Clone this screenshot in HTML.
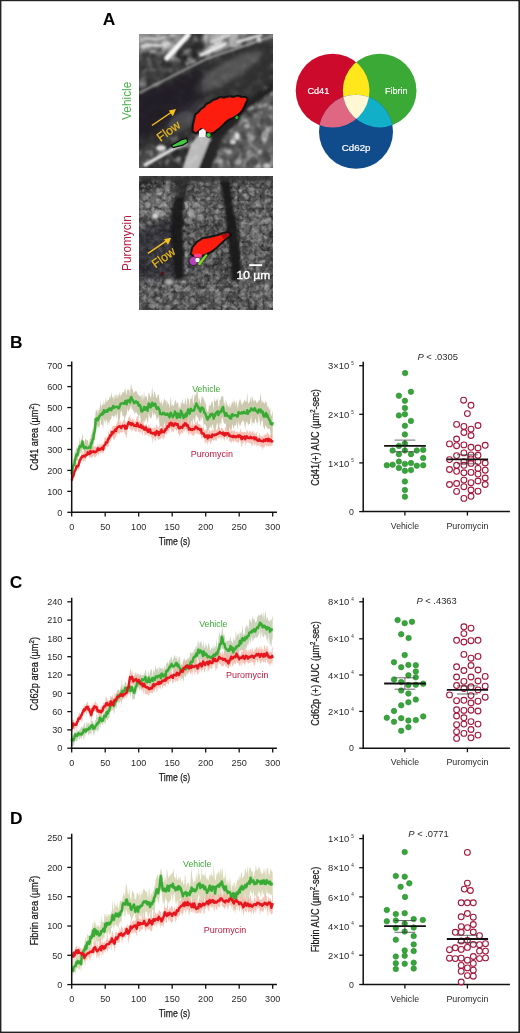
<!DOCTYPE html>
<html><head><meta charset="utf-8"><style>
html,body{margin:0;padding:0;background:#fff;}
svg{display:block;font-family:"Liberation Sans", sans-serif;will-change:transform;}
</style></head><body>
<svg width="520" height="1033" viewBox="0 0 520 1033">
<rect x="0" y="0" width="520" height="1033" fill="#fff"/>
<defs>
<clipPath id="im1"><rect x="139" y="34" width="134" height="134"/></clipPath>
<clipPath id="im2"><rect x="139" y="176" width="134" height="134"/></clipPath>
<filter id="bl2" x="-10%" y="-10%" width="120%" height="120%"><feGaussianBlur stdDeviation="2"/></filter>
<filter id="bl1" x="-10%" y="-10%" width="120%" height="120%"><feGaussianBlur stdDeviation="1.2"/></filter>
<filter id="bl4" x="-20%" y="-20%" width="140%" height="140%"><feGaussianBlur stdDeviation="3.5"/></filter>
<filter id="bl07" x="-10%" y="-10%" width="120%" height="120%"><feGaussianBlur stdDeviation="0.7"/></filter>
<filter id="nzW" x="0" y="0" width="100%" height="100%"><feTurbulence type="fractalNoise" baseFrequency="0.13" numOctaves="3" seed="3"/>
 <feColorMatrix type="matrix" values="0 0 0 0 1  0 0 0 0 1  0 0 0 0 1  3.0 0 0 0 -1.45"/><feGaussianBlur stdDeviation="0.8"/></filter>
<filter id="nzB" x="0" y="0" width="100%" height="100%"><feTurbulence type="fractalNoise" baseFrequency="0.12" numOctaves="3" seed="9"/>
 <feColorMatrix type="matrix" values="0 0 0 0 0  0 0 0 0 0  0 0 0 0 0  3.0 0 0 0 -1.4"/><feGaussianBlur stdDeviation="0.8"/></filter>
<filter id="tv1" x="0" y="0" width="100%" height="100%"><feTurbulence type="turbulence" baseFrequency="0.12" numOctaves="2" seed="4"/>
 <feColorMatrix type="matrix" values="0 0 0 0 1 0 0 0 0 1 0 0 0 0 1 2.2 0 0 0 -0.25"/><feGaussianBlur stdDeviation="0.6"/></filter>
<filter id="tv3" x="0" y="0" width="100%" height="100%"><feTurbulence type="turbulence" baseFrequency="0.09" numOctaves="3" seed="2"/>
 <feColorMatrix type="matrix" values="0 0 0 0 0 0 0 0 0 0 0 0 0 0 0 -3 0 0 0 0.9"/><feGaussianBlur stdDeviation="0.5"/></filter>
<filter id="nzW2" x="0" y="0" width="100%" height="100%"><feTurbulence type="fractalNoise" baseFrequency="0.24" numOctaves="3" seed="5"/>
 <feColorMatrix type="matrix" values="0 0 0 0 1  0 0 0 0 1  0 0 0 0 1  3.0 0 0 0 -1.45"/><feGaussianBlur stdDeviation="0.7"/></filter>
<filter id="nzB2" x="0" y="0" width="100%" height="100%"><feTurbulence type="fractalNoise" baseFrequency="0.23" numOctaves="3" seed="12"/>
 <feColorMatrix type="matrix" values="0 0 0 0 0  0 0 0 0 0  0 0 0 0 0  3.0 0 0 0 -1.4"/><feGaussianBlur stdDeviation="0.7"/></filter>
<mask id="m1tex"><rect x="0" y="0" width="134" height="134" fill="#fff"/>
 <polygon points="0,62 67,26 134,3 134,48 100,75 70,100 45,100 0,118" fill="#2a2a2a" filter="url(#bl2)"/></mask>
</defs>
<g clip-path="url(#im1)"><g transform="translate(139,34)">
<g filter="url(#bl2)">
<rect x="-5" y="-5" width="144" height="144" fill="#303030"/>
<polygon points="-5,-5 50,-5 32,18 -5,17" fill="#8e8e8e"/>
<polygon points="-5,18 29,20 45,30 62,26 0,59 -5,60" fill="#505050"/>
<polygon points="50,-5 66,-5 67,23 45,32 36,22" fill="#383838"/>
<polygon points="66,-5 112,-5 100,8 67,23" fill="#b2b2b2"/>
<polygon points="112,-5 140,-5 140,6 100,8" fill="#5a5a5a"/>
<ellipse cx="88" cy="38" rx="38" ry="9" transform="rotate(-30 88 38)" fill="#565656"/>
<ellipse cx="45" cy="80" rx="22" ry="9" transform="rotate(-30 45 80)" fill="#3a3a3f"/>
<polygon points="74,140 140,140 140,52 110,70 92,95 84,104" fill="#5e5e5e"/>
<polygon points="-5,118 30,108 8,131 -5,138" fill="#4a4a4a"/>
</g>
<g mask="url(#m1tex)">
<rect x="0" y="0" width="134" height="134" filter="url(#nzW)" opacity="0.6"/>
<rect x="0" y="0" width="134" height="134" filter="url(#nzB)" opacity="0.45"/>
</g>
<g filter="url(#bl1)">
</g>
<polygon points="-4,62 30,48 62,34 64,60 50,74 32,88 14,102 -4,108" fill="#1a1820" opacity="0.7" filter="url(#bl4)"/>
<polygon points="-4,20 30,22 45,32 58,30 0,58 -4,60" fill="#222" opacity="0.35" filter="url(#bl4)"/>
<g filter="url(#bl1)">
<ellipse cx="42" cy="88" rx="14" ry="9" transform="rotate(-35 42 88)" fill="#6a6a70" opacity="0.35"/>
<path d="M28,24 L49,1" stroke="#f6f6f6" stroke-width="5.5" stroke-linecap="round"/>
<path d="M2,13 C10,8 20,15 30,9" stroke="#d8d8d8" stroke-width="2.6" fill="none"/>
<path d="M4,5 C12,3 18,7 26,3" stroke="#cfcfcf" stroke-width="2.2" fill="none"/>
<path d="M62,21 L86,10" stroke="#e8e8e8" stroke-width="3.2" stroke-linecap="round"/>
<path d="M98,8 L122,1" stroke="#e0e0e0" stroke-width="2.6" stroke-linecap="round"/>
<path d="M72,8 L90,1" stroke="#d8d8d8" stroke-width="2.4" stroke-linecap="round"/>
<circle cx="120" cy="6" r="2.5" fill="#f0f0f0"/>
<path d="M0,59 L67,25 L134,2" stroke="#a8a8a8" stroke-width="1.8" fill="none"/>
<path d="M6,131 L34,115 L47,108" stroke="#e4e4e4" stroke-width="3.2" stroke-linecap="round" fill="none"/>
<ellipse cx="22" cy="114" rx="5" ry="3" fill="#dcdcdc"/>
<polygon points="43,136 59,136 72,106 67,97 59,101 52,110" fill="#d2d2d2" opacity="0.85"/>
<polygon points="59,136 72,136 82,104 90,96 76,101 70,108" fill="#262626"/>
<polygon points="68,100 107,68 134,50 134,57 110,73 90,96 76,103" fill="#202020"/>
<ellipse cx="98" cy="102" rx="2.5" ry="3.5" fill="#e0e0e0"/>
<ellipse cx="94" cy="108" rx="3" ry="2.5" fill="#d0d0d0"/>
<ellipse cx="128" cy="132" rx="4" ry="3" fill="#bdbdbd"/>
<ellipse cx="108" cy="92" rx="3" ry="2.5" fill="#a8a8a8"/>
<ellipse cx="126" cy="100" rx="3" ry="3" fill="#9a9a9a"/>
<ellipse cx="100" cy="128" rx="3" ry="3" fill="#a0a0a0"/>
</g>
</g></g>
<path d="M171.2,145.5 L181.5,139.6 L186.6,138.4 L187.8,142 L182.8,145.2 L173.2,147.6 Z" fill="#44c844" stroke="#101010" stroke-width="1.3" stroke-linejoin="round"/>
<path d="M193.1,131 L193.3,126 L194.6,120 L195.8,114.8 L199,112.5 L201.2,109.6 L204.5,107.5 L206.5,104.6 L210,103 L213.3,100.6 L217,99.4 L220,97.6 L224,98.2 L229.4,96.8 L233,97.6 L237.5,96.3 L241,97.4 L245.6,97.6 L247,99.6 L245.2,103 L243.8,106.4 L242.2,109.4 L239.8,112.6 L236.6,115 L232.8,117.4 L228.6,119.2 L225.4,121.6 L222.6,124.6 L219.8,127.2 L216.4,129.8 L213.4,132.2 L209.6,133.6 L206.2,131.8 L203.4,129 L200.8,128.2 L198.6,130.4 L196,132.6 Z" fill="none" stroke="#0c0c0c" stroke-width="3.2" stroke-linejoin="round" filter="url(#bl07)" opacity="0.9"/>
<path d="M193.1,131 L193.3,126 L194.6,120 L195.8,114.8 L199,112.5 L201.2,109.6 L204.5,107.5 L206.5,104.6 L210,103 L213.3,100.6 L217,99.4 L220,97.6 L224,98.2 L229.4,96.8 L233,97.6 L237.5,96.3 L241,97.4 L245.6,97.6 L247,99.6 L245.2,103 L243.8,106.4 L242.2,109.4 L239.8,112.6 L236.6,115 L232.8,117.4 L228.6,119.2 L225.4,121.6 L222.6,124.6 L219.8,127.2 L216.4,129.8 L213.4,132.2 L209.6,133.6 L206.2,131.8 L203.4,129 L200.8,128.2 L198.6,130.4 L196,132.6 Z" fill="#fc1d0e" stroke="#1a1a1a" stroke-width="0.9" stroke-linejoin="round"/>
<path d="M199,131 L203,128.5 L206,131 L205,137 L199,137 Z" fill="#f4f4f4"/>
<circle cx="208.6" cy="135.1" r="2.4" fill="#3bd13b" stroke="#111" stroke-width="0.7"/>
<circle cx="236.8" cy="117.6" r="2" fill="#2faa2f" stroke="#111" stroke-width="0.6"/>
<path d="M151.9,125.5 L172.5,111.5" stroke="#f5c21b" stroke-width="1.5"/>
<path d="M176,109 L168.8,110.6 L172.8,116.2 Z" fill="#f5c21b"/>
<text transform="translate(160.5,142) rotate(-36)" font-size="12.2" fill="#e8b820" stroke="#e8b820" stroke-width="0.25">Flow</text>
<g clip-path="url(#im2)"><g transform="translate(139,176)">
<g filter="url(#bl2)">
<rect x="-5" y="-5" width="144" height="144" fill="#474747"/>
<rect x="-5" y="-5" width="144" height="11" fill="#3a3a3a"/>
<polygon points="-5,-5 30,-5 26,8 12,14 -5,18" fill="#262626"/>
<polygon points="102,0 140,0 140,140 100,140" fill="#464646"/>
<polygon points="-5,100 140,100 140,140 -5,140" fill="#4e4e4e"/>
<ellipse cx="56" cy="34" rx="12" ry="9" fill="#6a6a6a"/>
<ellipse cx="116" cy="52" rx="10" ry="16" fill="#626262"/>
<ellipse cx="18" cy="30" rx="14" ry="14" fill="#626262"/>
<ellipse cx="70" cy="12" rx="10" ry="6" fill="#4a4a4a"/>
<ellipse cx="66" cy="72" rx="14" ry="10" fill="#4c4c4c"/>
</g>
<rect x="0" y="0" width="134" height="134" filter="url(#tv1)" opacity="0.32"/>
<rect x="0" y="0" width="134" height="134" filter="url(#tv3)" opacity="0.5"/>
<rect x="0" y="0" width="134" height="134" filter="url(#nzW2)" opacity="0.25"/>
<polygon points="-4,54 28,44 37,48 38,102 -4,102" fill="#1e1d26" opacity="0.6" filter="url(#bl4)"/>
<g filter="url(#bl1)">
<polygon points="38,0 52,0 49,12 46,24 36,24 35,12" fill="#202020" opacity="0.65"/>
<polygon points="38,22 45,22 45,26 43.5,52 45,78 45,95 43.5,103 36,103 35,95 33.5,78 31.5,52 33.5,26" fill="#161616" opacity="0.92"/>
<polygon points="80.5,0 90.5,0 93.2,26 98.4,52 101,78 102,95 100.5,104 92.5,104 92.2,95 90.6,78 88,52 84.8,26" fill="#161616" opacity="0.92"/>
<rect x="0" y="0" width="134" height="5" fill="#333" opacity="0.8"/>
<ellipse cx="16" cy="40" rx="3" ry="2.5" fill="#ddd"/>
<ellipse cx="30" cy="106" rx="4" ry="3" fill="#aaa"/>
</g>
</g></g>
<path d="M191.5,253.8 L192.2,250.4 L192.9,247.6 L195.2,245 L197.3,242.3 L200,240.6 L203.1,238.6 L206.5,238.2 L210,237.4 L214.6,236.4 L219.2,235.2 L223.8,233.5 L228.5,232.9 L230,235.2 L227.4,237.2 L224.6,239.6 L221.5,242.3 L218.8,244.8 L216.2,247.4 L213.4,249.6 L210.6,251.6 L206.5,253.6 L203,255 L200.8,255.6 L197.8,256.6 L195,256.4 Z" fill="none" stroke="#0c0c0c" stroke-width="3.2" stroke-linejoin="round" filter="url(#bl07)" opacity="0.9"/>
<path d="M191.5,253.8 L192.2,250.4 L192.9,247.6 L195.2,245 L197.3,242.3 L200,240.6 L203.1,238.6 L206.5,238.2 L210,237.4 L214.6,236.4 L219.2,235.2 L223.8,233.5 L228.5,232.9 L230,235.2 L227.4,237.2 L224.6,239.6 L221.5,242.3 L218.8,244.8 L216.2,247.4 L213.4,249.6 L210.6,251.6 L206.5,253.6 L203,255 L200.8,255.6 L197.8,256.6 L195,256.4 Z" fill="#fc1d0e" stroke="#1a1a1a" stroke-width="0.9" stroke-linejoin="round"/>
<path d="M221,235 L228.5,233.1 L229.6,235.4 L224,239 Z" fill="#b00d10"/>
<ellipse cx="193.5" cy="261" rx="4.5" ry="4.5" fill="#b341b8" stroke="#111" stroke-width="0.7"/>
<path d="M197,264 L206,253.5 L208,255 L200,266 Z" fill="#82d12c" stroke="#111" stroke-width="0.5"/>
<ellipse cx="197.5" cy="260" rx="2.2" ry="2.2" fill="#fff"/>
<ellipse cx="198" cy="255.5" rx="4" ry="2" fill="#ff3f88"/>
<circle cx="162.2" cy="273.4" r="1.8" fill="#501018"/>
<path d="M148,253.3 L167.6,240.2" stroke="#f5c21b" stroke-width="1.5"/>
<path d="M171.2,237.8 L164,239.2 L168,244.8 Z" fill="#f5c21b"/>
<text transform="translate(155.5,268.5) rotate(-36)" font-size="12.2" fill="#e8b820" stroke="#e8b820" stroke-width="0.25">Flow</text>
<rect x="249.2" y="264.2" width="13" height="1.9" fill="#fff"/>
<text x="236.6" y="279" font-size="11.6" fill="#fff" stroke="#fff" stroke-width="0.35" textLength="33.7" lengthAdjust="spacingAndGlyphs">10 µm</text>
<text transform="translate(131.3,100.8) rotate(-90)" font-size="12" fill="#47b04b" text-anchor="middle" textLength="38.3" lengthAdjust="spacingAndGlyphs">Vehicle</text>
<text transform="translate(131.3,243.1) rotate(-90)" font-size="12" fill="#b8173d" text-anchor="middle" textLength="55.8" lengthAdjust="spacingAndGlyphs">Puromycin</text>
<defs><clipPath id="cR"><circle cx="332.6" cy="90.6" r="36.9"/></clipPath><clipPath id="cG"><circle cx="379.7" cy="90.6" r="36.8"/></clipPath><clipPath id="cB"><circle cx="356" cy="131.8" r="37"/></clipPath></defs>
<circle cx="332.6" cy="90.6" r="36.9" fill="#cc0a2b"/>
<circle cx="379.7" cy="90.6" r="36.8" fill="#3aa935"/>
<circle cx="356" cy="131.8" r="37" fill="#104c8c"/>
<g clip-path="url(#cR)"><circle cx="379.7" cy="90.6" r="36.8" fill="#ffe71c"/><circle cx="356" cy="131.8" r="37" fill="#df6781"/></g>
<g clip-path="url(#cG)"><circle cx="356" cy="131.8" r="37" fill="#12afc9"/></g>
<g clip-path="url(#cR)"><g clip-path="url(#cG)"><circle cx="356" cy="131.8" r="37" fill="#fff6d3"/></g></g>
<text x="307.4" y="94.4" font-size="9.8" fill="#fff" text-anchor="start" font-weight="normal" stroke="#fff" stroke-width="0.2" textLength="21.9" lengthAdjust="spacingAndGlyphs">Cd41</text>
<text x="384.9" y="94.4" font-size="9.8" fill="#fff" text-anchor="start" font-weight="normal" stroke="#fff" stroke-width="0.2" textLength="22.5" lengthAdjust="spacingAndGlyphs">Fibrin</text>
<text x="341.8" y="150.8" font-size="9.4" fill="#fff" text-anchor="start" font-weight="normal" stroke="#fff" stroke-width="0.2" textLength="28.7" lengthAdjust="spacingAndGlyphs">Cd62p</text>
<text x="102.8" y="24.6" font-size="17.4" fill="#000" text-anchor="start" font-weight="bold" >A</text>
<text x="10.1" y="347.9" font-size="17.4" fill="#000" text-anchor="start" font-weight="bold" >B</text>
<text x="9.7" y="587.7" font-size="17.4" fill="#000" text-anchor="start" font-weight="bold" >C</text>
<text x="10.1" y="823.8" font-size="17.4" fill="#000" text-anchor="start" font-weight="bold" >D</text>
<polygon points="71.7,471.12 72.37,464.58 73.04,458.92 73.71,458.44 74.38,459.26 75.05,448.17 75.72,453.4 76.39,447.05 77.06,448.03 77.73,448.15 78.4,447.19 79.07,445.05 79.74,436.98 80.41,443.36 81.08,440.1 81.75,438.3 82.42,432.96 83.09,439.8 83.76,443.08 84.43,443.01 85.1,438.65 85.77,438.89 86.44,440.81 87.11,439.95 87.78,439.98 88.45,443.85 89.12,445.67 89.79,438.96 90.46,438.82 91.13,433.03 91.8,435.27 92.47,428.27 93.14,431.79 93.81,428.56 94.48,417.19 95.15,417.7 95.82,410.13 96.49,411.17 97.16,407.99 97.83,414.99 98.5,409.9 99.17,409.88 99.84,407.26 100.51,400.67 101.18,408.29 101.85,404.71 102.52,404.36 103.19,405.18 103.86,399.91 104.53,404.93 105.2,403.27 105.87,396.46 106.54,402.25 107.21,401.76 107.88,399.68 108.55,400.22 109.22,398.57 109.89,396.14 110.56,398.68 111.23,391.63 111.9,396.09 112.57,397.99 113.24,395.99 113.91,401.22 114.58,395.77 115.25,394.33 115.92,398.64 116.59,394.33 117.26,395 117.93,399.2 118.6,394.22 119.27,395.51 119.94,390.91 120.61,397.21 121.28,394.3 121.95,394.65 122.62,391.4 123.29,392.78 123.96,391.94 124.63,390.24 125.3,387.55 125.97,394.71 126.64,393.86 127.31,388.74 127.98,390.9 128.65,389.61 129.32,389.54 129.99,395.5 130.66,387.01 131.33,383.44 132,390.74 132.67,387.94 133.34,392.99 134.01,392.84 134.68,391.82 135.35,391.36 136.02,390.26 136.69,392.04 137.36,393 138.03,395.13 138.7,394.61 139.37,396.67 140.04,395.35 140.71,397.14 141.38,394.28 142.05,401.83 142.72,393.31 143.39,399.92 144.06,390.9 144.73,398.81 145.4,395.93 146.07,396.26 146.74,396.49 147.41,401.6 148.08,397.04 148.75,392.27 149.42,393.44 150.09,396.84 150.76,398.27 151.43,396.09 152.1,386.14 152.77,392.81 153.44,398.26 154.11,391.33 154.78,392.26 155.45,394.26 156.12,397.79 156.79,397.99 157.46,395.85 158.13,394.07 158.8,394.92 159.47,401.33 160.14,402.12 160.81,403.63 161.48,399.25 162.15,406.48 162.82,402.56 163.49,402.73 164.16,397.53 164.83,400.57 165.5,401.25 166.17,399.41 166.84,405.98 167.51,400.18 168.18,403.84 168.85,403.74 169.52,408.83 170.19,402.03 170.86,396.5 171.53,406.43 172.2,403.94 172.87,406.07 173.54,406.12 174.21,404.31 174.88,400.65 175.55,399.83 176.22,404.44 176.89,401.67 177.56,402.67 178.23,403.17 178.9,409.35 179.57,406.19 180.24,408.83 180.91,402.12 181.58,405.21 182.25,398.43 182.92,403.53 183.59,402.97 184.26,404.76 184.93,401.85 185.6,397.47 186.27,406.49 186.94,402.37 187.61,397.1 188.28,399.08 188.95,400.33 189.62,406.84 190.29,399.09 190.96,398.99 191.63,398.52 192.3,393.86 192.97,403.81 193.64,402.63 194.31,396.89 194.98,392.51 195.65,396.74 196.32,394.1 196.99,387.34 197.66,390.34 198.33,402.68 199,396.67 199.67,400.69 200.34,404.01 201.01,401.93 201.68,395.6 202.35,398.75 203.02,396.34 203.69,399.6 204.36,400.43 205.03,405.77 205.7,400.58 206.37,408.18 207.04,411.2 207.71,411.46 208.38,410.58 209.05,403.74 209.72,406.42 210.39,405.75 211.06,404.21 211.73,401.47 212.4,400.92 213.07,405.7 213.74,410.02 214.41,397.19 215.08,401.76 215.75,400.68 216.42,400.61 217.09,398.24 217.76,400.33 218.43,406.17 219.1,406.39 219.77,399.04 220.44,400.78 221.11,396.19 221.78,397.16 222.45,396.04 223.12,395.5 223.79,402.96 224.46,402.12 225.13,410 225.8,400.02 226.47,401.82 227.14,406.62 227.81,403.68 228.48,406.66 229.15,408.12 229.82,402.48 230.49,408.01 231.16,405.38 231.83,402.55 232.5,401.27 233.17,404.96 233.84,399.27 234.51,402.19 235.18,401.59 235.85,406.91 236.52,399.66 237.19,404.32 237.86,408.91 238.53,403.48 239.2,401.19 239.87,398.88 240.54,399.82 241.21,405.41 241.88,400.54 242.55,405.42 243.22,402.29 243.89,402.15 244.56,399.28 245.23,400.8 245.9,402.07 246.57,401.31 247.24,392.2 247.91,402.76 248.58,403.58 249.25,402.12 249.92,401.32 250.59,396.48 251.26,402.8 251.93,395.79 252.6,397.22 253.27,402.01 253.94,398.61 254.61,402.31 255.28,399.86 255.95,400.64 256.62,403.01 257.29,403.33 257.96,401.44 258.63,400.86 259.3,400.38 259.97,399.26 260.64,392.25 261.31,399.85 261.98,403.66 262.65,399.92 263.32,402.47 263.99,402.14 264.66,404.34 265.33,400.25 266,402.76 266.67,401.93 267.34,407.93 268.01,404.6 268.68,408.36 269.35,410.34 270.02,406.65 270.69,413.63 271.36,416.26 272.03,413.36 272.7,410.03 272.7,432.76 272.03,439.24 271.36,444.31 270.69,434.37 270.02,429.51 269.35,428.47 268.68,428.47 268.01,429.35 267.34,427.94 266.67,426.96 266,426.37 265.33,424.69 264.66,429.92 263.99,428.12 263.32,426.84 262.65,419.37 261.98,422.7 261.31,420.24 260.64,426.76 259.97,423.33 259.3,418.96 258.63,414.22 257.96,425.76 257.29,422.04 256.62,423.3 255.95,419.28 255.28,418.53 254.61,423.49 253.94,423.75 253.27,422.34 252.6,421.75 251.93,427.1 251.26,416.06 250.59,419.42 249.92,423.68 249.25,423.86 248.58,425.02 247.91,424.54 247.24,421.41 246.57,422.22 245.9,422.4 245.23,429.76 244.56,425.18 243.89,420.7 243.22,421.64 242.55,420.29 241.88,423.08 241.21,422.27 240.54,426.46 239.87,423.91 239.2,426.55 238.53,420.32 237.86,426.34 237.19,429.2 236.52,421.19 235.85,426.17 235.18,424.85 234.51,425.2 233.84,428.91 233.17,427.73 232.5,423.86 231.83,427.25 231.16,435.46 230.49,429.09 229.82,429.72 229.15,426.83 228.48,433.74 227.81,430.98 227.14,428.65 226.47,428.34 225.8,424 225.13,423.33 224.46,423.99 223.79,422.67 223.12,420.26 222.45,416.93 221.78,418.01 221.11,427.01 220.44,422.53 219.77,423.47 219.1,427.49 218.43,430.62 217.76,424.44 217.09,422.13 216.42,425.98 215.75,428.21 215.08,427.12 214.41,432.42 213.74,429.73 213.07,425.25 212.4,423.86 211.73,427.81 211.06,428.09 210.39,425.31 209.72,428.06 209.05,428.37 208.38,431.11 207.71,432.45 207.04,429.8 206.37,427.36 205.7,425.54 205.03,423.41 204.36,424.19 203.69,426.86 203.02,419.12 202.35,416.39 201.68,421.13 201.01,416.28 200.34,420.77 199.67,421.42 199,421 198.33,418.22 197.66,416.43 196.99,417.76 196.32,414.44 195.65,416.25 194.98,421.74 194.31,422.05 193.64,419.01 192.97,417.84 192.3,427.23 191.63,419.99 190.96,422.96 190.29,421.42 189.62,424.47 188.95,424.18 188.28,417 187.61,420.86 186.94,426.55 186.27,431.62 185.6,420.8 184.93,424.42 184.26,428.19 183.59,425.83 182.92,426.44 182.25,425.64 181.58,420.21 180.91,421.91 180.24,426.48 179.57,424.99 178.9,434.77 178.23,423.88 177.56,418.61 176.89,431.37 176.22,428.77 175.55,423.44 174.88,426.68 174.21,427.35 173.54,427.08 172.87,429.24 172.2,424.63 171.53,430.25 170.86,424.4 170.19,425.02 169.52,426.83 168.85,423.55 168.18,426.34 167.51,424.74 166.84,425.24 166.17,427.63 165.5,426.5 164.83,422.12 164.16,424.25 163.49,424.91 162.82,428.61 162.15,428.16 161.48,425.74 160.81,426.1 160.14,427.41 159.47,423.8 158.8,417.95 158.13,416.41 157.46,419.03 156.79,420.69 156.12,416.5 155.45,414.86 154.78,413.61 154.11,413.63 153.44,416.63 152.77,410.95 152.1,415.11 151.43,418.02 150.76,418.57 150.09,417.7 149.42,416.37 148.75,412.38 148.08,422.24 147.41,422.99 146.74,419.22 146.07,416.78 145.4,420.94 144.73,420.39 144.06,422.97 143.39,420.27 142.72,421.32 142.05,422.06 141.38,424.29 140.71,419.19 140.04,415.52 139.37,414.48 138.7,421.24 138.03,414.02 137.36,415.11 136.69,412.04 136.02,412.84 135.35,412.44 134.68,414.79 134.01,409.21 133.34,412.47 132.67,407.88 132,410.87 131.33,406.15 130.66,405.85 129.99,409.35 129.32,409.47 128.65,410.67 127.98,412.88 127.31,407.14 126.64,415.42 125.97,414.66 125.3,417.32 124.63,421.63 123.96,417.19 123.29,415.49 122.62,416.77 121.95,412.02 121.28,410.86 120.61,412.44 119.94,418.8 119.27,420.23 118.6,425.38 117.93,418.75 117.26,411.28 116.59,418.51 115.92,413.33 115.25,416.42 114.58,415.44 113.91,418.3 113.24,415.94 112.57,415.9 111.9,415.04 111.23,418.89 110.56,419.95 109.89,418.8 109.22,423.99 108.55,420.95 107.88,426.72 107.21,420.95 106.54,418.83 105.87,424.23 105.2,420.19 104.53,421.8 103.86,417.59 103.19,429.8 102.52,425.4 101.85,424.63 101.18,424.3 100.51,416.94 99.84,428.79 99.17,424.73 98.5,427.71 97.83,427.05 97.16,425.05 96.49,425.74 95.82,428.72 95.15,438.25 94.48,439.88 93.81,443.38 93.14,448.94 92.47,453.86 91.8,452.2 91.13,456.01 90.46,458.35 89.79,451.71 89.12,457.92 88.45,454.07 87.78,454.34 87.11,455.3 86.44,457.29 85.77,453.33 85.1,454.1 84.43,456.4 83.76,451.32 83.09,448.87 82.42,449.17 81.75,453.31 81.08,450.19 80.41,453.55 79.74,452.92 79.07,455.54 78.4,454.46 77.73,462.62 77.06,459.54 76.39,459.36 75.72,458.92 75.05,463.41 74.38,464.78 73.71,471.64 73.04,471.48 72.37,474.83 71.7,480.82" fill="#c3bea0" fill-opacity="0.85"/>
<polygon points="71.7,476.67 72.37,475.37 73.04,474.36 73.71,471.68 74.38,469.4 75.05,468.5 75.72,466.23 76.39,462.15 77.06,464.1 77.73,463.53 78.4,460.02 79.07,457.99 79.74,455.2 80.41,457.86 81.08,455.86 81.75,451.39 82.42,451.18 83.09,454.52 83.76,451.9 84.43,451.46 85.1,453.96 85.77,448.64 86.44,451.58 87.11,452.97 87.78,451.32 88.45,447.73 89.12,446.25 89.79,450.15 90.46,446.77 91.13,449.6 91.8,445.59 92.47,447.71 93.14,446.17 93.81,447.66 94.48,446.59 95.15,446.3 95.82,446.2 96.49,447.75 97.16,444.47 97.83,445.26 98.5,446.01 99.17,442.22 99.84,446.62 100.51,442.96 101.18,446.58 101.85,442.02 102.52,444.86 103.19,445.04 103.86,441.65 104.53,437.6 105.2,438.37 105.87,435.51 106.54,438.01 107.21,439.13 107.88,435.91 108.55,430.2 109.22,434.31 109.89,432.86 110.56,427.53 111.23,432.87 111.9,428.56 112.57,426.12 113.24,426 113.91,426.09 114.58,425.71 115.25,426.42 115.92,425.63 116.59,423.56 117.26,422 117.93,420.36 118.6,422.37 119.27,422.87 119.94,419.23 120.61,421.52 121.28,425.23 121.95,421.88 122.62,421.92 123.29,419.22 123.96,420.71 124.63,419.87 125.3,421.52 125.97,422.47 126.64,423.15 127.31,422.13 127.98,418.86 128.65,417.55 129.32,417.44 129.99,413.93 130.66,419 131.33,420.01 132,419.45 132.67,417.67 133.34,421.17 134.01,417.93 134.68,421.84 135.35,420.91 136.02,420.42 136.69,416.75 137.36,415.71 138.03,418.03 138.7,422.42 139.37,420.05 140.04,422.96 140.71,419.64 141.38,419.91 142.05,420.3 142.72,421.61 143.39,420.42 144.06,425.51 144.73,425.03 145.4,425.01 146.07,423.52 146.74,424.08 147.41,429.7 148.08,426.63 148.75,424.27 149.42,427.72 150.09,422.99 150.76,429.79 151.43,426.84 152.1,428.3 152.77,428.26 153.44,428.33 154.11,426.73 154.78,427.87 155.45,428.59 156.12,425.31 156.79,424.51 157.46,427.43 158.13,426.62 158.8,429.67 159.47,424.59 160.14,427.35 160.81,428.94 161.48,427.08 162.15,425 162.82,424.42 163.49,423.49 164.16,429.26 164.83,423.67 165.5,424.15 166.17,422.78 166.84,420.73 167.51,421.5 168.18,419.08 168.85,422.63 169.52,419.71 170.19,416.2 170.86,416.2 171.53,421.52 172.2,419.03 172.87,418.55 173.54,417.18 174.21,419.47 174.88,418.27 175.55,418.57 176.22,420.21 176.89,417.92 177.56,420 178.23,418.43 178.9,423.78 179.57,422.84 180.24,421.61 180.91,419.35 181.58,421.26 182.25,423.78 182.92,418.83 183.59,418.18 184.26,419.72 184.93,419.14 185.6,417.15 186.27,419.29 186.94,418.1 187.61,418.67 188.28,418.86 188.95,424.13 189.62,424.22 190.29,421.55 190.96,421.1 191.63,425.62 192.3,424.64 192.97,421.62 193.64,424.88 194.31,424.68 194.98,423.21 195.65,421.07 196.32,424.03 196.99,419.98 197.66,420.92 198.33,424.35 199,423.74 199.67,424.15 200.34,425.62 201.01,425.48 201.68,427.61 202.35,426.9 203.02,428.46 203.69,425.29 204.36,430.64 205.03,430.95 205.7,429.45 206.37,429.59 207.04,428.11 207.71,431.31 208.38,432.99 209.05,429.33 209.72,430.59 210.39,431.58 211.06,431.2 211.73,430.63 212.4,428.52 213.07,430.93 213.74,429.78 214.41,430.95 215.08,426.23 215.75,428.31 216.42,429.9 217.09,430.48 217.76,426.44 218.43,426.93 219.1,426.82 219.77,427.03 220.44,430.53 221.11,428.04 221.78,427.51 222.45,428.19 223.12,429.26 223.79,430.65 224.46,431.44 225.13,427.61 225.8,426.76 226.47,428.76 227.14,425.15 227.81,425.53 228.48,426.67 229.15,430.47 229.82,429.96 230.49,431.89 231.16,430.86 231.83,431.36 232.5,430.87 233.17,429.98 233.84,431.54 234.51,429.03 235.18,432.45 235.85,431.66 236.52,431.58 237.19,432.46 237.86,431.22 238.53,432.67 239.2,431.87 239.87,432.86 240.54,427.81 241.21,431.74 241.88,432.16 242.55,432.06 243.22,432.14 243.89,432.08 244.56,431.99 245.23,432.32 245.9,432.76 246.57,430.88 247.24,429.56 247.91,432.21 248.58,433.39 249.25,431.1 249.92,430.48 250.59,432.06 251.26,432.98 251.93,431.47 252.6,430.44 253.27,433.14 253.94,430.76 254.61,433.39 255.28,434.56 255.95,433.06 256.62,431.59 257.29,435.43 257.96,437.34 258.63,436.51 259.3,433.49 259.97,433.36 260.64,437.11 261.31,435.61 261.98,436.95 262.65,434.71 263.32,437.52 263.99,433.68 264.66,435.73 265.33,433.66 266,435.05 266.67,433.62 267.34,431.39 268.01,433.71 268.68,433.76 269.35,436.5 270.02,433.82 270.69,435.34 271.36,435.47 272.03,434.82 272.7,435.31 272.7,445.16 272.03,445.47 271.36,445.75 270.69,444.97 270.02,447.53 269.35,445.72 268.68,446.1 268.01,446.55 267.34,445.57 266.67,446.92 266,444.85 265.33,444.78 264.66,446.42 263.99,448.11 263.32,447 262.65,450.09 261.98,446.25 261.31,447.45 260.64,446.27 259.97,447.74 259.3,442.52 258.63,445.83 257.96,446.32 257.29,444.86 256.62,446.82 255.95,442.81 255.28,444.19 254.61,445.66 253.94,445.36 253.27,441.7 252.6,444.68 251.93,446.67 251.26,444.68 250.59,443 249.92,443.44 249.25,442.74 248.58,442.5 247.91,442.74 247.24,441.53 246.57,443.65 245.9,440.98 245.23,446.51 244.56,441.8 243.89,440.53 243.22,443.81 242.55,442.91 241.88,446.88 241.21,446.33 240.54,440.77 239.87,441.25 239.2,438.94 238.53,443.42 237.86,441.89 237.19,442.67 236.52,441.65 235.85,442.58 235.18,440.28 234.51,440.64 233.84,443.22 233.17,440.92 232.5,440.66 231.83,441.66 231.16,443.46 230.49,441.36 229.82,441.68 229.15,441.05 228.48,434.87 227.81,439 227.14,439.86 226.47,438.86 225.8,436.68 225.13,438.1 224.46,441.21 223.79,439.84 223.12,437.87 222.45,437.6 221.78,437.18 221.11,440.47 220.44,436.95 219.77,438.18 219.1,437.11 218.43,438.78 217.76,437.38 217.09,438.8 216.42,441.04 215.75,441.23 215.08,439.33 214.41,439.89 213.74,441.05 213.07,439.98 212.4,440.28 211.73,440.89 211.06,443.37 210.39,443.94 209.72,441.09 209.05,440.98 208.38,442.12 207.71,445.26 207.04,442.6 206.37,441.58 205.7,442.28 205.03,444.19 204.36,439.49 203.69,436.5 203.02,440.08 202.35,437.04 201.68,439.19 201.01,436.55 200.34,433.06 199.67,434.94 199,434.01 198.33,433.29 197.66,435.26 196.99,431.96 196.32,434.4 195.65,432.71 194.98,432.92 194.31,435.7 193.64,435.22 192.97,434.98 192.3,436.11 191.63,434.36 190.96,434.02 190.29,432.73 189.62,433.12 188.95,436.28 188.28,434.33 187.61,430.37 186.94,434.94 186.27,428.84 185.6,430.04 184.93,429.6 184.26,432.7 183.59,429.69 182.92,433.91 182.25,432.83 181.58,431.89 180.91,434.86 180.24,433.48 179.57,437.66 178.9,433.19 178.23,434.57 177.56,428.17 176.89,431.33 176.22,429.99 175.55,429.76 174.88,428.07 174.21,430.01 173.54,432.86 172.87,430.86 172.2,431.22 171.53,433.09 170.86,427.91 170.19,428.83 169.52,429.52 168.85,433.55 168.18,430.65 167.51,431.76 166.84,435.15 166.17,434.04 165.5,433.07 164.83,436.67 164.16,438.79 163.49,439.28 162.82,436.36 162.15,438.95 161.48,436.43 160.81,439.29 160.14,438.21 159.47,439.32 158.8,439.46 158.13,440.29 157.46,438.62 156.79,435.41 156.12,438.12 155.45,441.41 154.78,440.2 154.11,436.64 153.44,439.09 152.77,443.89 152.1,437.5 151.43,437.58 150.76,436.02 150.09,432.99 149.42,436.3 148.75,437.8 148.08,433.06 147.41,435.77 146.74,434.1 146.07,435.03 145.4,435.34 144.73,436.07 144.06,432.61 143.39,428.8 142.72,433.66 142.05,435.38 141.38,430.61 140.71,432.11 140.04,433.58 139.37,431.5 138.7,431.84 138.03,432.24 137.36,426.83 136.69,431.85 136.02,431.53 135.35,431.85 134.68,431.09 134.01,429.93 133.34,428.36 132.67,431.18 132,428.76 131.33,432.74 130.66,428.61 129.99,429.38 129.32,428.28 128.65,425.43 127.98,429.34 127.31,431.59 126.64,438.25 125.97,436.86 125.3,434.64 124.63,431.88 123.96,433.1 123.29,428.23 122.62,432.64 121.95,431.58 121.28,432.94 120.61,432.37 119.94,432.39 119.27,434.59 118.6,432.38 117.93,434.82 117.26,432.53 116.59,434.94 115.92,436.82 115.25,437.7 114.58,439.46 113.91,439.77 113.24,438.28 112.57,435.87 111.9,437.18 111.23,439.08 110.56,442.3 109.89,441.02 109.22,443.14 108.55,447.37 107.88,445.77 107.21,448.4 106.54,446.34 105.87,445.83 105.2,449.71 104.53,449.07 103.86,451.84 103.19,454.31 102.52,452.86 101.85,452.5 101.18,452.47 100.51,453.05 99.84,454.75 99.17,451.8 98.5,457.09 97.83,454.19 97.16,453.95 96.49,456.13 95.82,456.39 95.15,457.6 94.48,456.76 93.81,456.53 93.14,455.81 92.47,457.24 91.8,458.27 91.13,457.81 90.46,455.29 89.79,458.11 89.12,456.57 88.45,455.74 87.78,455.58 87.11,457.46 86.44,456.49 85.77,459.62 85.1,462.77 84.43,459.1 83.76,461.58 83.09,461.96 82.42,459.43 81.75,459.68 81.08,463.5 80.41,461.99 79.74,464.47 79.07,469.84 78.4,469.65 77.73,469.7 77.06,468.63 76.39,468.67 75.72,472.55 75.05,473.51 74.38,478.1 73.71,477.83 73.04,480.33 72.37,480.9 71.7,484.03" fill="#f2ad9c" fill-opacity="0.75"/>
<polyline points="71.7,474.29 72.37,469.97 73.04,466 73.71,465.27 74.38,464.48 75.05,460.63 75.72,457.55 76.39,454.4 77.06,455.52 77.73,454.66 78.4,450.14 79.07,448.82 79.74,446.26 80.41,445.69 81.08,446.5 81.75,446.38 82.42,441.57 83.09,444.92 83.76,446.9 84.43,448.26 85.1,447.1 85.77,446.93 86.44,447.84 87.11,448.11 87.78,448.07 88.45,447.81 89.12,447.51 89.79,446.46 90.46,447.62 91.13,442.84 91.8,443.06 92.47,439.82 93.14,439.3 93.81,434.38 94.48,431.79 95.15,427.29 95.82,419.16 96.49,419.38 97.16,418.18 97.83,420.36 98.5,418.86 99.17,416.37 99.84,416.09 100.51,414.68 101.18,414.01 101.85,414.8 102.52,412.76 103.19,414 103.86,410.27 104.53,412.47 105.2,411.22 105.87,411.68 106.54,410.25 107.21,411.84 107.88,409.73 108.55,410.5 109.22,408.46 109.89,408.55 110.56,409.04 111.23,410.3 111.9,408.17 112.57,407.85 113.24,405.88 113.91,408.09 114.58,407.22 115.25,406.88 115.92,406.94 116.59,406.92 117.26,406.79 117.93,407.74 118.6,408.47 119.27,407.63 119.94,405.77 120.61,403.71 121.28,403.63 121.95,403.29 122.62,403.38 123.29,403.31 123.96,403.83 124.63,402.92 125.3,400.96 125.97,403.24 126.64,404.25 127.31,400.36 127.98,401.44 128.65,400.43 129.32,399.99 129.99,402.54 130.66,397.79 131.33,397.06 132,399.65 132.67,399.83 133.34,401.05 134.01,403.14 134.68,402.88 135.35,402.33 136.02,401.32 136.69,401.86 137.36,403.22 138.03,402.44 138.7,405.87 139.37,405.19 140.04,405.09 140.71,407.69 141.38,411.23 142.05,411.56 142.72,410.56 143.39,409.17 144.06,406.96 144.73,409.75 145.4,408.81 146.07,407.29 146.74,407.72 147.41,410.81 148.08,406.78 148.75,403.4 149.42,404.25 150.09,407.26 150.76,407.37 151.43,406.41 152.1,402.74 152.77,404.33 153.44,405.48 154.11,403.65 154.78,405.45 155.45,403.86 156.12,407.61 156.79,408.91 157.46,408.04 158.13,407.24 158.8,408.61 159.47,410.03 160.14,414.06 160.81,414.13 161.48,414.11 162.15,414.21 162.82,412.81 163.49,413.97 164.16,412.89 164.83,413.82 165.5,414.93 166.17,414.82 166.84,414.31 167.51,413.59 168.18,415.38 168.85,415.62 169.52,417.4 170.19,413.64 170.86,412.79 171.53,414.98 172.2,415.9 172.87,417.17 173.54,415.38 174.21,414.68 174.88,411.47 175.55,413.23 176.22,415.15 176.89,418.06 177.56,413.47 178.23,413.98 178.9,416.87 179.57,415.21 180.24,417.43 180.91,410.73 181.58,412.28 182.25,413.65 182.92,415.25 183.59,418.13 184.26,415.74 184.93,416.81 185.6,413.67 186.27,416.44 186.94,415.16 187.61,411.35 188.28,409.28 188.95,412.49 189.62,413.67 190.29,410.18 190.96,408.86 191.63,410.88 192.3,410.76 192.97,410.43 193.64,410.77 194.31,409.83 194.98,406.42 195.65,405.93 196.32,403.48 196.99,405.6 197.66,406.01 198.33,408.08 199,407.85 199.67,409.94 200.34,411.65 201.01,408.94 201.68,407.45 202.35,408.29 203.02,408.23 203.69,410.2 204.36,412.91 205.03,413.16 205.7,414.51 206.37,416.62 207.04,418.71 207.71,419.64 208.38,417.39 209.05,416.41 209.72,416.96 210.39,414.26 211.06,415.21 211.73,414.83 212.4,413.71 213.07,416.29 213.74,418.67 214.41,415.33 215.08,415.97 215.75,412.88 216.42,413.03 217.09,411.74 217.76,411.36 218.43,415.07 219.1,411.73 219.77,412.42 220.44,412.39 221.11,411.57 221.78,409.2 222.45,407.98 223.12,407.07 223.79,411.82 224.46,412.35 225.13,415.79 225.8,414.16 226.47,413.31 227.14,415.72 227.81,415.63 228.48,416.29 229.15,416.02 229.82,418.09 230.49,418.56 231.16,418.43 231.83,414.53 232.5,414.17 233.17,415.67 233.84,415.44 234.51,415.36 235.18,415.04 235.85,415.38 236.52,415.49 237.19,416.71 237.86,416.01 238.53,412.24 239.2,412.57 239.87,413.17 240.54,413.58 241.21,413.11 241.88,412.36 242.55,413.42 243.22,412.32 243.89,411.74 244.56,412.83 245.23,413.04 245.9,413.22 246.57,413.19 247.24,410.13 247.91,413.8 248.58,411.64 249.25,411.48 249.92,411.37 250.59,410.21 251.26,408.27 251.93,409.16 252.6,409.67 253.27,410.45 253.94,409.9 254.61,408.13 255.28,409.44 255.95,410.87 256.62,411.39 257.29,411.79 257.96,412.64 258.63,409.55 259.3,410.02 259.97,411.34 260.64,409.55 261.31,412.43 261.98,411.53 262.65,411.5 263.32,415.24 263.99,416.67 264.66,416.46 265.33,414.01 266,412.99 266.67,416.68 267.34,414.74 268.01,417.11 268.68,418.52 269.35,419.86 270.02,420.62 270.69,423.72 271.36,424.13 272.03,424.52 272.7,422.25" fill="none" stroke="#a5de8e" stroke-width="3.6" stroke-linejoin="round" stroke-opacity="0.55"/>
<polyline points="71.7,474.29 72.37,469.97 73.04,466 73.71,465.27 74.38,464.48 75.05,460.63 75.72,457.55 76.39,454.4 77.06,455.52 77.73,454.66 78.4,450.14 79.07,448.82 79.74,446.26 80.41,445.69 81.08,446.5 81.75,446.38 82.42,441.57 83.09,444.92 83.76,446.9 84.43,448.26 85.1,447.1 85.77,446.93 86.44,447.84 87.11,448.11 87.78,448.07 88.45,447.81 89.12,447.51 89.79,446.46 90.46,447.62 91.13,442.84 91.8,443.06 92.47,439.82 93.14,439.3 93.81,434.38 94.48,431.79 95.15,427.29 95.82,419.16 96.49,419.38 97.16,418.18 97.83,420.36 98.5,418.86 99.17,416.37 99.84,416.09 100.51,414.68 101.18,414.01 101.85,414.8 102.52,412.76 103.19,414 103.86,410.27 104.53,412.47 105.2,411.22 105.87,411.68 106.54,410.25 107.21,411.84 107.88,409.73 108.55,410.5 109.22,408.46 109.89,408.55 110.56,409.04 111.23,410.3 111.9,408.17 112.57,407.85 113.24,405.88 113.91,408.09 114.58,407.22 115.25,406.88 115.92,406.94 116.59,406.92 117.26,406.79 117.93,407.74 118.6,408.47 119.27,407.63 119.94,405.77 120.61,403.71 121.28,403.63 121.95,403.29 122.62,403.38 123.29,403.31 123.96,403.83 124.63,402.92 125.3,400.96 125.97,403.24 126.64,404.25 127.31,400.36 127.98,401.44 128.65,400.43 129.32,399.99 129.99,402.54 130.66,397.79 131.33,397.06 132,399.65 132.67,399.83 133.34,401.05 134.01,403.14 134.68,402.88 135.35,402.33 136.02,401.32 136.69,401.86 137.36,403.22 138.03,402.44 138.7,405.87 139.37,405.19 140.04,405.09 140.71,407.69 141.38,411.23 142.05,411.56 142.72,410.56 143.39,409.17 144.06,406.96 144.73,409.75 145.4,408.81 146.07,407.29 146.74,407.72 147.41,410.81 148.08,406.78 148.75,403.4 149.42,404.25 150.09,407.26 150.76,407.37 151.43,406.41 152.1,402.74 152.77,404.33 153.44,405.48 154.11,403.65 154.78,405.45 155.45,403.86 156.12,407.61 156.79,408.91 157.46,408.04 158.13,407.24 158.8,408.61 159.47,410.03 160.14,414.06 160.81,414.13 161.48,414.11 162.15,414.21 162.82,412.81 163.49,413.97 164.16,412.89 164.83,413.82 165.5,414.93 166.17,414.82 166.84,414.31 167.51,413.59 168.18,415.38 168.85,415.62 169.52,417.4 170.19,413.64 170.86,412.79 171.53,414.98 172.2,415.9 172.87,417.17 173.54,415.38 174.21,414.68 174.88,411.47 175.55,413.23 176.22,415.15 176.89,418.06 177.56,413.47 178.23,413.98 178.9,416.87 179.57,415.21 180.24,417.43 180.91,410.73 181.58,412.28 182.25,413.65 182.92,415.25 183.59,418.13 184.26,415.74 184.93,416.81 185.6,413.67 186.27,416.44 186.94,415.16 187.61,411.35 188.28,409.28 188.95,412.49 189.62,413.67 190.29,410.18 190.96,408.86 191.63,410.88 192.3,410.76 192.97,410.43 193.64,410.77 194.31,409.83 194.98,406.42 195.65,405.93 196.32,403.48 196.99,405.6 197.66,406.01 198.33,408.08 199,407.85 199.67,409.94 200.34,411.65 201.01,408.94 201.68,407.45 202.35,408.29 203.02,408.23 203.69,410.2 204.36,412.91 205.03,413.16 205.7,414.51 206.37,416.62 207.04,418.71 207.71,419.64 208.38,417.39 209.05,416.41 209.72,416.96 210.39,414.26 211.06,415.21 211.73,414.83 212.4,413.71 213.07,416.29 213.74,418.67 214.41,415.33 215.08,415.97 215.75,412.88 216.42,413.03 217.09,411.74 217.76,411.36 218.43,415.07 219.1,411.73 219.77,412.42 220.44,412.39 221.11,411.57 221.78,409.2 222.45,407.98 223.12,407.07 223.79,411.82 224.46,412.35 225.13,415.79 225.8,414.16 226.47,413.31 227.14,415.72 227.81,415.63 228.48,416.29 229.15,416.02 229.82,418.09 230.49,418.56 231.16,418.43 231.83,414.53 232.5,414.17 233.17,415.67 233.84,415.44 234.51,415.36 235.18,415.04 235.85,415.38 236.52,415.49 237.19,416.71 237.86,416.01 238.53,412.24 239.2,412.57 239.87,413.17 240.54,413.58 241.21,413.11 241.88,412.36 242.55,413.42 243.22,412.32 243.89,411.74 244.56,412.83 245.23,413.04 245.9,413.22 246.57,413.19 247.24,410.13 247.91,413.8 248.58,411.64 249.25,411.48 249.92,411.37 250.59,410.21 251.26,408.27 251.93,409.16 252.6,409.67 253.27,410.45 253.94,409.9 254.61,408.13 255.28,409.44 255.95,410.87 256.62,411.39 257.29,411.79 257.96,412.64 258.63,409.55 259.3,410.02 259.97,411.34 260.64,409.55 261.31,412.43 261.98,411.53 262.65,411.5 263.32,415.24 263.99,416.67 264.66,416.46 265.33,414.01 266,412.99 266.67,416.68 267.34,414.74 268.01,417.11 268.68,418.52 269.35,419.86 270.02,420.62 270.69,423.72 271.36,424.13 272.03,424.52 272.7,422.25" fill="none" stroke="#3aa935" stroke-width="2.4" stroke-linejoin="round"/>
<polyline points="71.7,480.5 72.37,477.59 73.04,476.13 73.71,474.78 74.38,471.73 75.05,470.64 75.72,469.54 76.39,466.13 77.06,466.53 77.73,466.48 78.4,465.6 79.07,463.47 79.74,460.61 80.41,459.4 81.08,458.34 81.75,456.87 82.42,456.17 83.09,456.66 83.76,455.68 84.43,455.69 85.1,456.57 85.77,454.97 86.44,454.89 87.11,454.75 87.78,452.3 88.45,452.69 89.12,453.97 89.79,453.75 90.46,450.96 91.13,452.69 91.8,451.99 92.47,451.74 93.14,451.61 93.81,451.32 94.48,452.2 95.15,452.27 95.82,451.8 96.49,451.51 97.16,449.88 97.83,448.3 98.5,450.1 99.17,448.82 99.84,449.74 100.51,449.41 101.18,448.52 101.85,447.59 102.52,447.58 103.19,449.57 103.86,445.63 104.53,445.27 105.2,444.8 105.87,442.52 106.54,442.45 107.21,442.56 107.88,439.81 108.55,438.32 109.22,438.45 109.89,435.97 110.56,434.98 111.23,435.54 111.9,431.89 112.57,432.11 113.24,433.26 113.91,431.51 114.58,430.93 115.25,429.45 115.92,431.06 116.59,428.6 117.26,427.56 117.93,427.1 118.6,427.05 119.27,426.17 119.94,426.41 120.61,426.99 121.28,428.07 121.95,426.2 122.62,425.66 123.29,426.1 123.96,426.26 124.63,425.58 125.3,428.7 125.97,426.5 126.64,428.47 127.31,425.85 127.98,423.91 128.65,422.14 129.32,423.83 129.99,423.09 130.66,423.11 131.33,425.11 132,423.22 132.67,423.81 133.34,424.27 134.01,425.84 134.68,425.73 135.35,425.93 136.02,425.08 136.69,426.24 137.36,422.9 138.03,425.94 138.7,426.6 139.37,426.48 140.04,427.15 140.71,424.78 141.38,425.49 142.05,428.06 142.72,427.69 143.39,426.79 144.06,429.57 144.73,429.06 145.4,429.63 146.07,427.4 146.74,429.08 147.41,430.78 148.08,431.77 148.75,429.56 149.42,431.56 150.09,429.4 150.76,433 151.43,432.79 152.1,432.93 152.77,433.63 153.44,433.48 154.11,432.64 154.78,433.99 155.45,434.95 156.12,432.15 156.79,431.04 157.46,432.87 158.13,432.23 158.8,434.96 159.47,431.8 160.14,433.24 160.81,432.71 161.48,429.53 162.15,432.09 162.82,431.35 163.49,431.7 164.16,432.18 164.83,431.14 165.5,428.86 166.17,429.39 166.84,428.34 167.51,426.17 168.18,426.01 168.85,426.73 169.52,423.51 170.19,423.55 170.86,422.67 171.53,425.21 172.2,423.26 172.87,425.29 173.54,425.96 174.21,424.39 174.88,423.5 175.55,423.39 176.22,424.71 176.89,424.32 177.56,423.93 178.23,426.4 178.9,428.39 179.57,428.42 180.24,427.62 180.91,426.65 181.58,427.23 182.25,427.71 182.92,426.47 183.59,424.68 184.26,425.56 184.93,423.32 185.6,423.42 186.27,424.33 186.94,426.12 187.61,425.1 188.28,426.74 188.95,429.41 189.62,428.31 190.29,429.85 190.96,429.27 191.63,429.41 192.3,430 192.97,429.04 193.64,429.16 194.31,429.26 194.98,428.09 195.65,426.59 196.32,426.65 196.99,427.65 197.66,428.93 198.33,428.59 199,429.29 199.67,429.25 200.34,430.35 201.01,429.29 201.68,433.38 202.35,433.47 203.02,433.36 203.69,433.42 204.36,436.26 205.03,437.1 205.7,436.42 206.37,435.37 207.04,435.33 207.71,438.41 208.38,437.16 209.05,435.47 209.72,435.98 210.39,437.05 211.06,436.84 211.73,437.23 212.4,434.46 213.07,434.96 213.74,435.09 214.41,435.4 215.08,434.51 215.75,434.86 216.42,434.83 217.09,433.92 217.76,433.84 218.43,433.09 219.1,433.2 219.77,432.13 220.44,433.11 221.11,433.08 221.78,433.11 222.45,434.21 223.12,432.56 223.79,434.01 224.46,435.62 225.13,433.2 225.8,433.19 226.47,434.57 227.14,433.47 227.81,433.22 228.48,433.57 229.15,435.8 229.82,435.17 230.49,436.4 231.16,436.45 231.83,436.55 232.5,437.01 233.17,435.86 233.84,437.01 234.51,436 235.18,436.3 235.85,437.27 236.52,436.82 237.19,436.22 237.86,435.64 238.53,437.02 239.2,435.41 239.87,436.24 240.54,435.85 241.21,438.57 241.88,439.15 242.55,437.01 243.22,437.91 243.89,437.49 244.56,436.63 245.23,439.22 245.9,438.03 246.57,436.15 247.24,436.83 247.91,437.83 248.58,437.67 249.25,438.26 249.92,437.61 250.59,436.85 251.26,438.24 251.93,437.81 252.6,437.97 253.27,437.55 253.94,437.33 254.61,439.39 255.28,437.72 255.95,437.62 256.62,439.74 257.29,439.6 257.96,440.87 258.63,440.1 259.3,439.3 259.97,440.7 260.64,440.8 261.31,441.02 261.98,440.97 262.65,441.11 263.32,441.44 263.99,439.8 264.66,440.14 265.33,440.88 266,439.2 266.67,440.33 267.34,439.13 268.01,441.02 268.68,438.79 269.35,440.08 270.02,441 270.69,439.84 271.36,441.34 272.03,441.51 272.7,440.18" fill="none" stroke="#e5161d" stroke-width="2.4" stroke-linejoin="round"/>
<path d="M71.7,361.5 V512.3 H276.9" fill="none" stroke="#111" stroke-width="1.5"/>
<path d="M67.3,512.3 H71.7" stroke="#111" stroke-width="1.3"/>
<text x="62.4" y="515.5" font-size="9.1" fill="#2a2a2a" text-anchor="end" font-weight="normal" >0</text>
<path d="M67.3,491.35 H71.7" stroke="#111" stroke-width="1.3"/>
<text x="62.4" y="494.55" font-size="9.1" fill="#2a2a2a" text-anchor="end" font-weight="normal" >100</text>
<path d="M67.3,470.4 H71.7" stroke="#111" stroke-width="1.3"/>
<text x="62.4" y="473.6" font-size="9.1" fill="#2a2a2a" text-anchor="end" font-weight="normal" >200</text>
<path d="M67.3,449.45 H71.7" stroke="#111" stroke-width="1.3"/>
<text x="62.4" y="452.65" font-size="9.1" fill="#2a2a2a" text-anchor="end" font-weight="normal" >300</text>
<path d="M67.3,428.5 H71.7" stroke="#111" stroke-width="1.3"/>
<text x="62.4" y="431.7" font-size="9.1" fill="#2a2a2a" text-anchor="end" font-weight="normal" >400</text>
<path d="M67.3,407.55 H71.7" stroke="#111" stroke-width="1.3"/>
<text x="62.4" y="410.75" font-size="9.1" fill="#2a2a2a" text-anchor="end" font-weight="normal" >500</text>
<path d="M67.3,386.6 H71.7" stroke="#111" stroke-width="1.3"/>
<text x="62.4" y="389.8" font-size="9.1" fill="#2a2a2a" text-anchor="end" font-weight="normal" >600</text>
<path d="M67.3,365.65 H71.7" stroke="#111" stroke-width="1.3"/>
<text x="62.4" y="368.85" font-size="9.1" fill="#2a2a2a" text-anchor="end" font-weight="normal" >700</text>
<path d="M71.7,512.3 V516.5" stroke="#111" stroke-width="1.3"/>
<text x="71.7" y="529.6" font-size="9.1" fill="#2a2a2a" text-anchor="middle" font-weight="normal" >0</text>
<path d="M105.2,512.3 V516.5" stroke="#111" stroke-width="1.3"/>
<text x="105.2" y="529.6" font-size="9.1" fill="#2a2a2a" text-anchor="middle" font-weight="normal" >50</text>
<path d="M138.7,512.3 V516.5" stroke="#111" stroke-width="1.3"/>
<text x="138.7" y="529.6" font-size="9.1" fill="#2a2a2a" text-anchor="middle" font-weight="normal" >100</text>
<path d="M172.2,512.3 V516.5" stroke="#111" stroke-width="1.3"/>
<text x="172.2" y="529.6" font-size="9.1" fill="#2a2a2a" text-anchor="middle" font-weight="normal" >150</text>
<path d="M205.7,512.3 V516.5" stroke="#111" stroke-width="1.3"/>
<text x="205.7" y="529.6" font-size="9.1" fill="#2a2a2a" text-anchor="middle" font-weight="normal" >200</text>
<path d="M239.2,512.3 V516.5" stroke="#111" stroke-width="1.3"/>
<text x="239.2" y="529.6" font-size="9.1" fill="#2a2a2a" text-anchor="middle" font-weight="normal" >250</text>
<path d="M272.7,512.3 V516.5" stroke="#111" stroke-width="1.3"/>
<text x="272.7" y="529.6" font-size="9.1" fill="#2a2a2a" text-anchor="middle" font-weight="normal" >300</text>
<text x="174.5" y="545.1" font-size="11.3" fill="#1a1a1a" text-anchor="middle" font-weight="normal" textLength="31.5" lengthAdjust="spacingAndGlyphs" stroke="#1a1a1a" stroke-width="0.25">Time (s)</text>
<text transform="translate(38.2,436.8) rotate(-90)" font-size="11.3" fill="#1a1a1a" stroke="#1a1a1a" stroke-width="0.25" text-anchor="middle" textLength="67.2" lengthAdjust="spacingAndGlyphs">Cd41 area (µm<tspan dy="-4" font-size="7.5">2</tspan><tspan dy="4">)</tspan></text>
<text x="192.2" y="391.6" font-size="8.6" fill="#3aa935" text-anchor="start" font-weight="normal" textLength="28.1" lengthAdjust="spacingAndGlyphs">Vehicle</text>
<text x="190.7" y="457.4" font-size="8.9" fill="#c0163c" text-anchor="start" font-weight="normal" textLength="42.3" lengthAdjust="spacingAndGlyphs">Puromycin</text>
<polygon points="71.7,732.81 72.37,735.63 73.04,735.26 73.71,737.84 74.38,730.46 75.05,733.67 75.72,731.78 76.39,729.72 77.06,733.03 77.73,729.44 78.4,731.75 79.07,729.7 79.74,729.9 80.41,729.07 81.08,727.36 81.75,726.61 82.42,727.24 83.09,727.72 83.76,724.99 84.43,722.27 85.1,724.5 85.77,728.5 86.44,722.44 87.11,721.67 87.78,724.77 88.45,722.53 89.12,722.32 89.79,725.35 90.46,723.15 91.13,715.15 91.8,721.22 92.47,721.09 93.14,720.16 93.81,725.81 94.48,723.92 95.15,719.87 95.82,720.18 96.49,714.18 97.16,713.88 97.83,717.9 98.5,717.56 99.17,710.9 99.84,708.21 100.51,711.99 101.18,714.75 101.85,716.46 102.52,717.65 103.19,713.69 103.86,713.25 104.53,712.14 105.2,711.82 105.87,710 106.54,705.27 107.21,709.9 107.88,711.09 108.55,705.12 109.22,703.76 109.89,705.31 110.56,695.73 111.23,696.68 111.9,697.83 112.57,697.54 113.24,698.19 113.91,698.8 114.58,699.18 115.25,696.63 115.92,696.39 116.59,694.11 117.26,692.21 117.93,690.23 118.6,688.94 119.27,692.05 119.94,689.83 120.61,687.3 121.28,685.58 121.95,678.05 122.62,689.61 123.29,682.95 123.96,689.53 124.63,683.08 125.3,681.45 125.97,681.77 126.64,684.44 127.31,686.63 127.98,679.67 128.65,685.6 129.32,680.83 129.99,680.98 130.66,686.15 131.33,685.87 132,679.82 132.67,684.57 133.34,687.04 134.01,690.01 134.68,682.59 135.35,678.64 136.02,677.89 136.69,675.23 137.36,674.43 138.03,672.86 138.7,674.05 139.37,678.66 140.04,675.97 140.71,672.67 141.38,674.95 142.05,675.98 142.72,674.57 143.39,675.47 144.06,672.74 144.73,674.05 145.4,669.81 146.07,670.58 146.74,677.38 147.41,678.59 148.08,674.99 148.75,670.64 149.42,675.68 150.09,672.35 150.76,669.35 151.43,669.08 152.1,671.4 152.77,676.24 153.44,669.59 154.11,670.03 154.78,672.6 155.45,664.5 156.12,669.7 156.79,668.45 157.46,669.72 158.13,666.53 158.8,671.98 159.47,666.57 160.14,667.79 160.81,668.49 161.48,668.79 162.15,667.83 162.82,669.26 163.49,669.47 164.16,664.99 164.83,668.52 165.5,668.65 166.17,663.21 166.84,663.47 167.51,661.26 168.18,664.63 168.85,662.17 169.52,658.76 170.19,661.29 170.86,656.63 171.53,656.28 172.2,661.61 172.87,659.06 173.54,658.21 174.21,655.64 174.88,654.99 175.55,657.98 176.22,658.28 176.89,655.64 177.56,661.03 178.23,660.11 178.9,657.59 179.57,656.13 180.24,659.66 180.91,667.58 181.58,663.39 182.25,665 182.92,661.52 183.59,659.48 184.26,657.63 184.93,660 185.6,663.39 186.27,659.02 186.94,660.98 187.61,657.32 188.28,659.49 188.95,658.02 189.62,656.84 190.29,651.76 190.96,652.53 191.63,654.02 192.3,651.55 192.97,654.09 193.64,651.05 194.31,648.79 194.98,650.28 195.65,646.68 196.32,645.83 196.99,649.02 197.66,642.1 198.33,639.86 199,647.98 199.67,641.94 200.34,642.74 201.01,640.2 201.68,644.11 202.35,645.41 203.02,648.2 203.69,640.36 204.36,647.56 205.03,648.34 205.7,642.75 206.37,645.83 207.04,645.29 207.71,650.09 208.38,642.42 209.05,643.87 209.72,647.47 210.39,650.92 211.06,648.81 211.73,647.38 212.4,649.14 213.07,643.67 213.74,649.16 214.41,648.1 215.08,645.38 215.75,648.07 216.42,638.01 217.09,647.14 217.76,646.72 218.43,639.91 219.1,633.08 219.77,632.02 220.44,638.36 221.11,635.32 221.78,630.08 222.45,625.73 223.12,633.63 223.79,634.63 224.46,635.04 225.13,639.72 225.8,642.45 226.47,641.41 227.14,640.05 227.81,641.23 228.48,640.56 229.15,641.59 229.82,639.05 230.49,635.43 231.16,641.5 231.83,640.43 232.5,643.82 233.17,640.41 233.84,637.08 234.51,640.16 235.18,641.15 235.85,629.71 236.52,636.93 237.19,635.32 237.86,633.22 238.53,633.47 239.2,638.42 239.87,630.66 240.54,633.77 241.21,633.16 241.88,632.26 242.55,624.43 243.22,635.35 243.89,634.09 244.56,634.56 245.23,627.87 245.9,626.96 246.57,625.41 247.24,624.78 247.91,628.34 248.58,628.37 249.25,619.56 249.92,618.87 250.59,621.16 251.26,623.81 251.93,619.4 252.6,615.99 253.27,619.9 253.94,618.38 254.61,619.42 255.28,622.87 255.95,621.85 256.62,621.6 257.29,616.8 257.96,616.81 258.63,614.49 259.3,615.24 259.97,615.96 260.64,614.87 261.31,613.98 261.98,612.79 262.65,618 263.32,610.94 263.99,620.44 264.66,615.5 265.33,610.15 266,615.38 266.67,619.68 267.34,616.85 268.01,619.25 268.68,621.03 269.35,620.72 270.02,621.79 270.69,619.03 271.36,620.54 272.03,618.11 272.7,615.85 272.7,640.84 272.03,638.02 271.36,647.54 270.69,643.01 270.02,646.85 269.35,640.35 268.68,632.46 268.01,644.6 267.34,638.18 266.67,640.17 266,635.13 265.33,635.86 264.66,633.61 263.99,637.3 263.32,636.68 262.65,637.12 261.98,631.29 261.31,634.74 260.64,639.13 259.97,628.48 259.3,634.21 258.63,634.52 257.96,636.98 257.29,636.85 256.62,638.21 255.95,636.36 255.28,637.85 254.61,638.51 253.94,638.24 253.27,640.71 252.6,641.64 251.93,635.63 251.26,639.54 250.59,644.66 249.92,639.24 249.25,641.23 248.58,643.64 247.91,646.69 247.24,643 246.57,649.81 245.9,646.71 245.23,653.52 244.56,649.06 243.89,648.61 243.22,649.6 242.55,650.37 241.88,650.4 241.21,649.62 240.54,651.93 239.87,648.95 239.2,653.19 238.53,654.22 237.86,655.39 237.19,652.22 236.52,658.46 235.85,656.57 235.18,657.96 234.51,659.66 233.84,660.83 233.17,659.8 232.5,658.92 231.83,660.29 231.16,660.7 230.49,653.65 229.82,660.47 229.15,660.26 228.48,657.17 227.81,660.78 227.14,659.29 226.47,658.11 225.8,654.68 225.13,656.19 224.46,653.98 223.79,649.99 223.12,648.38 222.45,649.43 221.78,646.69 221.11,650.29 220.44,649.25 219.77,652.4 219.1,657.35 218.43,658.79 217.76,661.43 217.09,662.78 216.42,662.3 215.75,663.92 215.08,660.71 214.41,663.51 213.74,666.21 213.07,663.07 212.4,664.14 211.73,663.72 211.06,665 210.39,664.12 209.72,661.67 209.05,667.54 208.38,668.15 207.71,672.14 207.04,661.92 206.37,662.74 205.7,658.35 205.03,663.88 204.36,664.79 203.69,658.91 203.02,666.5 202.35,666.94 201.68,659.98 201.01,659.34 200.34,658.67 199.67,663.42 199,662.37 198.33,659.9 197.66,657.06 196.99,661.94 196.32,661.57 195.65,663.75 194.98,667.08 194.31,662.89 193.64,663.28 192.97,666.98 192.3,667.6 191.63,671.2 190.96,669.24 190.29,673.1 189.62,671.15 188.95,671.31 188.28,672.13 187.61,672.77 186.94,671.84 186.27,675.71 185.6,677.29 184.93,676.49 184.26,675.27 183.59,682.53 182.92,679.09 182.25,678.23 181.58,678.42 180.91,681.58 180.24,676.31 179.57,676.32 178.9,673.72 178.23,673.71 177.56,675.84 176.89,670.76 176.22,670.22 175.55,674.45 174.88,673.75 174.21,674.99 173.54,676.92 172.87,669.67 172.2,669.35 171.53,671.74 170.86,671.26 170.19,675.52 169.52,675.2 168.85,675.11 168.18,684.49 167.51,679.87 166.84,681.32 166.17,683.16 165.5,685.01 164.83,677.54 164.16,683.31 163.49,686.09 162.82,680.78 162.15,680.6 161.48,677.48 160.81,685.53 160.14,683.03 159.47,682.17 158.8,682.02 158.13,684.7 157.46,685.32 156.79,688.33 156.12,682.4 155.45,686.4 154.78,692.5 154.11,688.98 153.44,684.48 152.77,688.67 152.1,686.87 151.43,689.78 150.76,685.37 150.09,691.23 149.42,687.89 148.75,681.13 148.08,686.18 147.41,686.21 146.74,685.97 146.07,686.72 145.4,684.76 144.73,683.73 144.06,682.19 143.39,685.18 142.72,685.17 142.05,687.21 141.38,693.46 140.71,686.4 140.04,688.73 139.37,690.55 138.7,687.38 138.03,686.75 137.36,688.72 136.69,690.64 136.02,694.12 135.35,694.77 134.68,699.37 134.01,699.14 133.34,698.9 132.67,700.13 132,694.93 131.33,689.9 130.66,697.35 129.99,694 129.32,692.71 128.65,694.72 127.98,692.35 127.31,695.64 126.64,693.25 125.97,694.69 125.3,692.45 124.63,696.73 123.96,696.67 123.29,698.91 122.62,697.77 121.95,700.79 121.28,706.18 120.61,698.52 119.94,703.04 119.27,697.82 118.6,705.32 117.93,700.07 117.26,701.78 116.59,708.34 115.92,708.66 115.25,706.12 114.58,711.5 113.91,714.62 113.24,708.07 112.57,706.2 111.9,709.19 111.23,711.96 110.56,708.37 109.89,712.87 109.22,718.94 108.55,717.3 107.88,720.05 107.21,720.61 106.54,717.94 105.87,722.93 105.2,724.28 104.53,722.79 103.86,720.35 103.19,723.75 102.52,724.96 101.85,723.75 101.18,723.49 100.51,729.01 99.84,721.28 99.17,729.88 98.5,728.79 97.83,733.05 97.16,729.8 96.49,730.52 95.82,730.5 95.15,730.89 94.48,734.84 93.81,732.43 93.14,737.27 92.47,727.8 91.8,730.55 91.13,736.13 90.46,732.93 89.79,733.23 89.12,734.41 88.45,735.62 87.78,732.19 87.11,731.63 86.44,732.29 85.77,736.8 85.1,733.02 84.43,738.22 83.76,740.25 83.09,735.18 82.42,733.67 81.75,739.48 81.08,737.94 80.41,737.54 79.74,739.7 79.07,739.78 78.4,736.11 77.73,739.74 77.06,741.21 76.39,741.36 75.72,740.68 75.05,735.52 74.38,743.27 73.71,745.6 73.04,746.69 72.37,744.3 71.7,746.55" fill="#c3cbb2" fill-opacity="0.85"/>
<polygon points="71.7,721.47 72.37,719.56 73.04,719.49 73.71,719.75 74.38,722.66 75.05,720.25 75.72,722.55 76.39,721.95 77.06,717.42 77.73,717.82 78.4,714.4 79.07,713.43 79.74,712.34 80.41,714.34 81.08,713.63 81.75,712.66 82.42,709.34 83.09,708.44 83.76,705.83 84.43,704.36 85.1,708.03 85.77,703.16 86.44,704.07 87.11,701.88 87.78,702.1 88.45,705.5 89.12,705.31 89.79,704.8 90.46,708.92 91.13,711.98 91.8,707.81 92.47,703.21 93.14,706.39 93.81,702.61 94.48,703.65 95.15,699.89 95.82,702.67 96.49,703.05 97.16,706.76 97.83,702.98 98.5,706.24 99.17,708.77 99.84,710.63 100.51,706.4 101.18,707.43 101.85,704.44 102.52,706.63 103.19,703.15 103.86,701.77 104.53,706.19 105.2,702.58 105.87,695.55 106.54,697.78 107.21,698.78 107.88,701.4 108.55,700.52 109.22,699.6 109.89,703.34 110.56,695.97 111.23,696.57 111.9,698.08 112.57,694.12 113.24,697.46 113.91,698.82 114.58,693.3 115.25,692.51 115.92,695.52 116.59,692.56 117.26,689.03 117.93,691.05 118.6,690.84 119.27,692.23 119.94,691.13 120.61,689.81 121.28,687.12 121.95,687.53 122.62,690.85 123.29,691.21 123.96,690 124.63,690.72 125.3,692.88 125.97,686.56 126.64,686.38 127.31,685.58 127.98,683.27 128.65,684.76 129.32,675.38 129.99,669.17 130.66,668.52 131.33,673.9 132,669.93 132.67,672.77 133.34,676.56 134.01,676.09 134.68,674.76 135.35,672.57 136.02,672.53 136.69,674.33 137.36,677.28 138.03,678.46 138.7,675.45 139.37,674.39 140.04,675.39 140.71,676.09 141.38,679.25 142.05,679.12 142.72,678.89 143.39,682.56 144.06,678.82 144.73,682.41 145.4,681.51 146.07,679.53 146.74,681.53 147.41,683.2 148.08,685.24 148.75,685.73 149.42,683.44 150.09,685.5 150.76,684.92 151.43,682.4 152.1,683.77 152.77,680.38 153.44,676.95 154.11,680.25 154.78,678.46 155.45,677.79 156.12,680.1 156.79,677.2 157.46,678.03 158.13,675.1 158.8,681.37 159.47,675.85 160.14,678.9 160.81,676.01 161.48,675.72 162.15,676.93 162.82,677.32 163.49,675.26 164.16,673.15 164.83,671.56 165.5,673.64 166.17,669.99 166.84,668.46 167.51,670.95 168.18,673.73 168.85,675.27 169.52,673.35 170.19,672.22 170.86,669.69 171.53,671.98 172.2,673.15 172.87,675.5 173.54,671.04 174.21,670.53 174.88,666.51 175.55,668.81 176.22,671.39 176.89,666.96 177.56,667.84 178.23,667.37 178.9,670.15 179.57,666.5 180.24,667.7 180.91,663.76 181.58,665.1 182.25,666.18 182.92,665.6 183.59,660.24 184.26,665.3 184.93,661.5 185.6,660.06 186.27,659.81 186.94,662.57 187.61,663.55 188.28,657.35 188.95,663.15 189.62,660.67 190.29,658.21 190.96,661.17 191.63,660.07 192.3,661.92 192.97,663.17 193.64,663.37 194.31,657.59 194.98,659.89 195.65,657.75 196.32,661.77 196.99,658.62 197.66,663.02 198.33,664.51 199,660.38 199.67,658.12 200.34,659.04 201.01,661.6 201.68,662.29 202.35,655.76 203.02,655.73 203.69,655.52 204.36,654.35 205.03,661.65 205.7,656.32 206.37,656.66 207.04,658.02 207.71,655.11 208.38,658.77 209.05,656.34 209.72,658.04 210.39,654.32 211.06,656.47 211.73,658.81 212.4,657.39 213.07,657.09 213.74,648.97 214.41,656.02 215.08,651.58 215.75,653.45 216.42,653.86 217.09,656.6 217.76,652.73 218.43,646.84 219.1,652.22 219.77,651.81 220.44,653.27 221.11,651.31 221.78,655.66 222.45,651.07 223.12,653.52 223.79,654.83 224.46,651.42 225.13,650.67 225.8,656.96 226.47,651.23 227.14,653.98 227.81,654.68 228.48,656.52 229.15,656.88 229.82,652.53 230.49,654.69 231.16,650.78 231.83,650.92 232.5,651.14 233.17,650.1 233.84,651.23 234.51,652.4 235.18,649.09 235.85,649.38 236.52,649.38 237.19,647.96 237.86,649.06 238.53,651.94 239.2,654.33 239.87,654.26 240.54,656.08 241.21,650.4 241.88,651.94 242.55,652.19 243.22,647.06 243.89,648.44 244.56,647.63 245.23,652.95 245.9,648.79 246.57,650.7 247.24,650.37 247.91,653.77 248.58,648.9 249.25,652.33 249.92,648.7 250.59,649.37 251.26,652.48 251.93,647.73 252.6,648.5 253.27,652.03 253.94,651.62 254.61,650.43 255.28,649.36 255.95,647.7 256.62,646.97 257.29,647.92 257.96,649.91 258.63,647.74 259.3,645.55 259.97,651.01 260.64,648.23 261.31,645.7 261.98,649.43 262.65,648.46 263.32,652.12 263.99,645.93 264.66,644.83 265.33,648.28 266,649.74 266.67,645.88 267.34,645.73 268.01,649.59 268.68,651.49 269.35,653.13 270.02,651.11 270.69,651.68 271.36,652.39 272.03,647.38 272.7,646.98 272.7,666.33 272.03,661.59 271.36,664.12 270.69,663.48 270.02,666.85 269.35,664.09 268.68,662.42 268.01,664.39 267.34,661.58 266.67,659.96 266,660.3 265.33,663.58 264.66,661.22 263.99,661.59 263.32,663.11 262.65,659.43 261.98,662.82 261.31,660.97 260.64,663.31 259.97,664.05 259.3,660.06 258.63,659.49 257.96,662.02 257.29,663.21 256.62,659.62 255.95,660.25 255.28,663.17 254.61,665.95 253.94,664.8 253.27,662.44 252.6,661.71 251.93,662.88 251.26,660.94 250.59,661.98 249.92,663.02 249.25,662.89 248.58,663.4 247.91,663.57 247.24,662.36 246.57,660.79 245.9,663 245.23,664.12 244.56,665.7 243.89,662.85 243.22,663.02 242.55,662.21 241.88,667.77 241.21,660.96 240.54,664.17 239.87,666.52 239.2,664.97 238.53,663.1 237.86,663.01 237.19,663.4 236.52,660.82 235.85,663.77 235.18,664.56 234.51,663.24 233.84,663.25 233.17,666.43 232.5,666.45 231.83,662.92 231.16,662.72 230.49,667.1 229.82,665.12 229.15,667.42 228.48,669.23 227.81,667.39 227.14,667.97 226.47,666.24 225.8,666.44 225.13,665.06 224.46,663.63 223.79,665.82 223.12,666.51 222.45,665.99 221.78,665.67 221.11,665.9 220.44,664.1 219.77,664.54 219.1,662.7 218.43,663.15 217.76,665.4 217.09,669.32 216.42,668.32 215.75,671.43 215.08,666.54 214.41,662.94 213.74,663.84 213.07,662.98 212.4,667.73 211.73,668.54 211.06,669.24 210.39,667.59 209.72,667.98 209.05,669.12 208.38,671.96 207.71,664.62 207.04,666.28 206.37,667.5 205.7,668.32 205.03,671.27 204.36,673.56 203.69,666.59 203.02,670.45 202.35,669.49 201.68,673.45 201.01,669.22 200.34,669.77 199.67,673.06 199,667.48 198.33,674.43 197.66,674.93 196.99,673.37 196.32,670.42 195.65,671.63 194.98,675.01 194.31,671.69 193.64,667.89 192.97,676.74 192.3,671.29 191.63,672.64 190.96,673.8 190.29,674.59 189.62,669.46 188.95,674 188.28,672.12 187.61,675.21 186.94,674.19 186.27,673 185.6,670.78 184.93,674.74 184.26,674.07 183.59,673.67 182.92,678.54 182.25,674.99 181.58,675.79 180.91,676.58 180.24,676.62 179.57,677.97 178.9,681.76 178.23,677 177.56,681.65 176.89,680.81 176.22,680.77 175.55,682.42 174.88,679.23 174.21,680.57 173.54,682.4 172.87,683.89 172.2,682.48 171.53,676.76 170.86,682.1 170.19,681.19 169.52,680.47 168.85,685.12 168.18,683.78 167.51,683.4 166.84,682.6 166.17,684.38 165.5,687.05 164.83,685.73 164.16,685.79 163.49,684.85 162.82,688.94 162.15,686.71 161.48,683.22 160.81,687.59 160.14,689.68 159.47,685.96 158.8,689.75 158.13,685.28 157.46,690.87 156.79,693.06 156.12,687.48 155.45,689.09 154.78,688.41 154.11,692.94 153.44,690.1 152.77,694.09 152.1,692.6 151.43,693.21 150.76,692.01 150.09,693.17 149.42,693.25 148.75,696.78 148.08,693.27 147.41,694.93 146.74,693.36 146.07,694.88 145.4,693.95 144.73,692.23 144.06,688.57 143.39,694.99 142.72,691.37 142.05,689.32 141.38,687.43 140.71,690.51 140.04,685.21 139.37,685.34 138.7,687.81 138.03,687.34 137.36,682.08 136.69,689.19 136.02,684.13 135.35,686.89 134.68,685.78 134.01,683.75 133.34,686.5 132.67,683.61 132,684.84 131.33,683.01 130.66,682.62 129.99,682.46 129.32,682.36 128.65,694.02 127.98,693.68 127.31,696.18 126.64,697.93 125.97,696.81 125.3,696.68 124.63,699.92 123.96,696.67 123.29,699.02 122.62,700.02 121.95,698.28 121.28,697.27 120.61,700.63 119.94,700.89 119.27,702.91 118.6,700.97 117.93,701.3 117.26,700.83 116.59,703.21 115.92,705.05 115.25,705.88 114.58,705.05 113.91,706.49 113.24,708.68 112.57,711.35 111.9,707.9 111.23,707.08 110.56,703.54 109.89,709.9 109.22,709.32 108.55,711.23 107.88,710.82 107.21,710.84 106.54,708.44 105.87,709.13 105.2,709.97 104.53,711.01 103.86,712.02 103.19,713.62 102.52,713.42 101.85,716.71 101.18,719.2 100.51,712.39 99.84,714.37 99.17,717.58 98.5,714.55 97.83,714.81 97.16,712.58 96.49,713.45 95.82,711.99 95.15,711.56 94.48,710.5 93.81,711.99 93.14,713.23 92.47,716.95 91.8,719.33 91.13,717.7 90.46,716.88 89.79,718.8 89.12,712.55 88.45,713.1 87.78,710.31 87.11,713.21 86.44,714.72 85.77,711.23 85.1,712.88 84.43,713.81 83.76,715.38 83.09,712.73 82.42,721.5 81.75,721.69 81.08,719.64 80.41,719.8 79.74,722.87 79.07,721.64 78.4,723.1 77.73,729.37 77.06,723.07 76.39,731.42 75.72,728.2 75.05,727.42 74.38,732.07 73.71,729.73 73.04,725.38 72.37,733.04 71.7,731.37" fill="#f2ad9c" fill-opacity="0.75"/>
<polyline points="71.7,741.05 72.37,738.97 73.04,740.4 73.71,740.23 74.38,737.79 75.05,734.51 75.72,734.54 76.39,735.9 77.06,735.95 77.73,734.9 78.4,733.16 79.07,733.8 79.74,734.34 80.41,734.22 81.08,733.55 81.75,734.45 82.42,733.31 83.09,732.29 83.76,729.84 84.43,731.01 85.1,729.68 85.77,731.57 86.44,729.33 87.11,729.24 87.78,729.8 88.45,729.27 89.12,727.77 89.79,728.82 90.46,727.24 91.13,726 91.8,725.38 92.47,725.08 93.14,728.67 93.81,727.51 94.48,728.39 95.15,726.4 95.82,725.95 96.49,724.89 97.16,723.53 97.83,723.77 98.5,722.21 99.17,722.08 99.84,717.62 100.51,719.46 101.18,719.06 101.85,720.95 102.52,720.81 103.19,719.59 103.86,716.74 104.53,715.59 105.2,715.56 105.87,716.43 106.54,712.27 107.21,713.92 107.88,713.29 108.55,710.44 109.22,710.64 109.89,708.14 110.56,705.56 111.23,705.26 111.9,703.65 112.57,702.75 113.24,703.06 113.91,705.93 114.58,703.69 115.25,700.9 115.92,701.7 116.59,699.99 117.26,697.94 117.93,695.31 118.6,697.57 119.27,696.76 119.94,695.09 120.61,693.76 121.28,695.46 121.95,691.26 122.62,693.11 123.29,690.72 123.96,691.28 124.63,690.22 125.3,687.8 125.97,688.15 126.64,688.75 127.31,690.17 127.98,689.86 128.65,690.53 129.32,685.9 129.99,688.97 130.66,690.98 131.33,687.09 132,687.08 132.67,689.94 133.34,689.89 134.01,692.76 134.68,691.29 135.35,688.23 136.02,686.26 136.69,685.6 137.36,681.44 138.03,681.43 138.7,681.9 139.37,683.47 140.04,681.87 140.71,681.68 141.38,680.98 142.05,679.28 142.72,680.28 143.39,679.71 144.06,678.91 144.73,679.34 145.4,676.96 146.07,681.7 146.74,680.97 147.41,682.31 148.08,681.31 148.75,677.65 149.42,682.16 150.09,681.8 150.76,679.94 151.43,679.81 152.1,678.36 152.77,680.89 153.44,677.96 154.11,679.33 154.78,679.77 155.45,677.21 156.12,676.24 156.79,677.24 157.46,677.33 158.13,676.22 158.8,675.55 159.47,675.41 160.14,676.33 160.81,678.2 161.48,673.76 162.15,673.79 162.82,675.53 163.49,676.34 164.16,675.26 164.83,674.41 165.5,676.28 166.17,671.43 166.84,670.72 167.51,670.95 168.18,669.58 168.85,668.78 169.52,666.88 170.19,666.97 170.86,665.29 171.53,664.07 172.2,665.85 172.87,666.24 173.54,666.6 174.21,665.51 174.88,665.51 175.55,664.19 176.22,663.07 176.89,663.35 177.56,666.25 178.23,664.68 178.9,666.61 179.57,667.48 180.24,668.82 180.91,671.76 181.58,669.66 182.25,671.92 182.92,668.94 183.59,669.65 184.26,668.02 184.93,668.93 185.6,669.31 186.27,667.43 186.94,668.09 187.61,665.49 188.28,666.24 188.95,665.25 189.62,665.51 190.29,663.27 190.96,661.73 191.63,661.91 192.3,662.15 192.97,659.71 193.64,657.51 194.31,656.77 194.98,656.79 195.65,655.6 196.32,653.78 196.99,655.53 197.66,652.48 198.33,649.69 199,652.8 199.67,652.64 200.34,650.36 201.01,651.31 201.68,651.63 202.35,653.47 203.02,655.92 203.69,651.36 204.36,653.75 205.03,654.87 205.7,653.66 206.37,654.26 207.04,655.45 207.71,657.36 208.38,656.66 209.05,656.45 209.72,657.09 210.39,657.53 211.06,657.85 211.73,656.76 212.4,657.07 213.07,655.83 213.74,654.65 214.41,655.22 215.08,655.79 215.75,653.91 216.42,652.84 217.09,654.18 217.76,652.36 218.43,649.41 219.1,648.76 219.77,644.3 220.44,644.5 221.11,642.95 221.78,636.82 222.45,638.42 223.12,643.31 223.79,644.03 224.46,644.05 225.13,647.16 225.8,648.51 226.47,649.27 227.14,649.51 227.81,650.69 228.48,649.55 229.15,650.67 229.82,649.15 230.49,645.97 231.16,649.57 231.83,648.21 232.5,647.62 233.17,652.26 233.84,650.59 234.51,649.47 235.18,649.07 235.85,646.93 236.52,647.45 237.19,646.05 237.86,646.12 238.53,645.31 239.2,645.43 239.87,640.88 240.54,642.13 241.21,643.43 241.88,639.22 242.55,638.11 243.22,639.75 243.89,640.46 244.56,640.39 245.23,637.34 245.9,638.12 246.57,638.47 247.24,636.11 247.91,636.49 248.58,635.92 249.25,632.69 249.92,632.77 250.59,631.89 251.26,632.29 251.93,630.82 252.6,631.9 253.27,630.28 253.94,629.25 254.61,630.47 255.28,631.58 255.95,629.05 256.62,628.74 257.29,627.24 257.96,627.99 258.63,626.27 259.3,624.75 259.97,622.8 260.64,623.14 261.31,625.24 261.98,624.62 262.65,627.33 263.32,625.88 263.99,626.97 264.66,625.85 265.33,626.99 266,628.23 266.67,629.38 267.34,627.24 268.01,628.29 268.68,627.84 269.35,628.12 270.02,631.69 270.69,629.32 271.36,630.03 272.03,629.32 272.7,629.1" fill="none" stroke="#a5de8e" stroke-width="3.6" stroke-linejoin="round" stroke-opacity="0.55"/>
<polyline points="71.7,741.05 72.37,738.97 73.04,740.4 73.71,740.23 74.38,737.79 75.05,734.51 75.72,734.54 76.39,735.9 77.06,735.95 77.73,734.9 78.4,733.16 79.07,733.8 79.74,734.34 80.41,734.22 81.08,733.55 81.75,734.45 82.42,733.31 83.09,732.29 83.76,729.84 84.43,731.01 85.1,729.68 85.77,731.57 86.44,729.33 87.11,729.24 87.78,729.8 88.45,729.27 89.12,727.77 89.79,728.82 90.46,727.24 91.13,726 91.8,725.38 92.47,725.08 93.14,728.67 93.81,727.51 94.48,728.39 95.15,726.4 95.82,725.95 96.49,724.89 97.16,723.53 97.83,723.77 98.5,722.21 99.17,722.08 99.84,717.62 100.51,719.46 101.18,719.06 101.85,720.95 102.52,720.81 103.19,719.59 103.86,716.74 104.53,715.59 105.2,715.56 105.87,716.43 106.54,712.27 107.21,713.92 107.88,713.29 108.55,710.44 109.22,710.64 109.89,708.14 110.56,705.56 111.23,705.26 111.9,703.65 112.57,702.75 113.24,703.06 113.91,705.93 114.58,703.69 115.25,700.9 115.92,701.7 116.59,699.99 117.26,697.94 117.93,695.31 118.6,697.57 119.27,696.76 119.94,695.09 120.61,693.76 121.28,695.46 121.95,691.26 122.62,693.11 123.29,690.72 123.96,691.28 124.63,690.22 125.3,687.8 125.97,688.15 126.64,688.75 127.31,690.17 127.98,689.86 128.65,690.53 129.32,685.9 129.99,688.97 130.66,690.98 131.33,687.09 132,687.08 132.67,689.94 133.34,689.89 134.01,692.76 134.68,691.29 135.35,688.23 136.02,686.26 136.69,685.6 137.36,681.44 138.03,681.43 138.7,681.9 139.37,683.47 140.04,681.87 140.71,681.68 141.38,680.98 142.05,679.28 142.72,680.28 143.39,679.71 144.06,678.91 144.73,679.34 145.4,676.96 146.07,681.7 146.74,680.97 147.41,682.31 148.08,681.31 148.75,677.65 149.42,682.16 150.09,681.8 150.76,679.94 151.43,679.81 152.1,678.36 152.77,680.89 153.44,677.96 154.11,679.33 154.78,679.77 155.45,677.21 156.12,676.24 156.79,677.24 157.46,677.33 158.13,676.22 158.8,675.55 159.47,675.41 160.14,676.33 160.81,678.2 161.48,673.76 162.15,673.79 162.82,675.53 163.49,676.34 164.16,675.26 164.83,674.41 165.5,676.28 166.17,671.43 166.84,670.72 167.51,670.95 168.18,669.58 168.85,668.78 169.52,666.88 170.19,666.97 170.86,665.29 171.53,664.07 172.2,665.85 172.87,666.24 173.54,666.6 174.21,665.51 174.88,665.51 175.55,664.19 176.22,663.07 176.89,663.35 177.56,666.25 178.23,664.68 178.9,666.61 179.57,667.48 180.24,668.82 180.91,671.76 181.58,669.66 182.25,671.92 182.92,668.94 183.59,669.65 184.26,668.02 184.93,668.93 185.6,669.31 186.27,667.43 186.94,668.09 187.61,665.49 188.28,666.24 188.95,665.25 189.62,665.51 190.29,663.27 190.96,661.73 191.63,661.91 192.3,662.15 192.97,659.71 193.64,657.51 194.31,656.77 194.98,656.79 195.65,655.6 196.32,653.78 196.99,655.53 197.66,652.48 198.33,649.69 199,652.8 199.67,652.64 200.34,650.36 201.01,651.31 201.68,651.63 202.35,653.47 203.02,655.92 203.69,651.36 204.36,653.75 205.03,654.87 205.7,653.66 206.37,654.26 207.04,655.45 207.71,657.36 208.38,656.66 209.05,656.45 209.72,657.09 210.39,657.53 211.06,657.85 211.73,656.76 212.4,657.07 213.07,655.83 213.74,654.65 214.41,655.22 215.08,655.79 215.75,653.91 216.42,652.84 217.09,654.18 217.76,652.36 218.43,649.41 219.1,648.76 219.77,644.3 220.44,644.5 221.11,642.95 221.78,636.82 222.45,638.42 223.12,643.31 223.79,644.03 224.46,644.05 225.13,647.16 225.8,648.51 226.47,649.27 227.14,649.51 227.81,650.69 228.48,649.55 229.15,650.67 229.82,649.15 230.49,645.97 231.16,649.57 231.83,648.21 232.5,647.62 233.17,652.26 233.84,650.59 234.51,649.47 235.18,649.07 235.85,646.93 236.52,647.45 237.19,646.05 237.86,646.12 238.53,645.31 239.2,645.43 239.87,640.88 240.54,642.13 241.21,643.43 241.88,639.22 242.55,638.11 243.22,639.75 243.89,640.46 244.56,640.39 245.23,637.34 245.9,638.12 246.57,638.47 247.24,636.11 247.91,636.49 248.58,635.92 249.25,632.69 249.92,632.77 250.59,631.89 251.26,632.29 251.93,630.82 252.6,631.9 253.27,630.28 253.94,629.25 254.61,630.47 255.28,631.58 255.95,629.05 256.62,628.74 257.29,627.24 257.96,627.99 258.63,626.27 259.3,624.75 259.97,622.8 260.64,623.14 261.31,625.24 261.98,624.62 262.65,627.33 263.32,625.88 263.99,626.97 264.66,625.85 265.33,626.99 266,628.23 266.67,629.38 267.34,627.24 268.01,628.29 268.68,627.84 269.35,628.12 270.02,631.69 270.69,629.32 271.36,630.03 272.03,629.32 272.7,629.1" fill="none" stroke="#3aa935" stroke-width="2.4" stroke-linejoin="round"/>
<polyline points="71.7,728.1 72.37,727.96 73.04,723.34 73.71,724.81 74.38,725.14 75.05,724.46 75.72,724.86 76.39,724.73 77.06,722.02 77.73,721.31 78.4,718.64 79.07,718 79.74,718.61 80.41,717.23 81.08,715.28 81.75,714.99 82.42,712.52 83.09,711.6 83.76,709.49 84.43,710.5 85.1,709.64 85.77,708.03 86.44,706.93 87.11,708.2 87.78,706.86 88.45,709.64 89.12,709.08 89.79,711.35 90.46,712.88 91.13,715 91.8,713.03 92.47,708.83 93.14,710.34 93.81,707.58 94.48,706.28 95.15,707.16 95.82,706.87 96.49,707.07 97.16,709.69 97.83,711.35 98.5,710.56 99.17,711.81 99.84,710.76 100.51,711.11 101.18,712.33 101.85,710.71 102.52,710.82 103.19,707.91 103.86,706.39 104.53,706.5 105.2,706.37 105.87,703.57 106.54,704.5 107.21,702.93 107.88,705 108.55,704.81 109.22,705.06 109.89,705.71 110.56,701.57 111.23,701.53 111.9,704.17 112.57,703.33 113.24,705.12 113.91,701.47 114.58,699.9 115.25,700.41 115.92,699.92 116.59,698.41 117.26,697.05 117.93,696.92 118.6,696.78 119.27,696.1 119.94,695.92 120.61,694.3 121.28,694.44 121.95,694.14 122.62,696.07 123.29,695 123.96,694.52 124.63,694.35 125.3,693.67 125.97,692.53 126.64,692.74 127.31,689.11 127.98,687.19 128.65,687.41 129.32,681.04 129.99,677.08 130.66,678.65 131.33,678.41 132,676.83 132.67,678.77 133.34,681.51 134.01,679.87 134.68,680.17 135.35,680.28 136.02,678.94 136.69,680.81 137.36,681.28 138.03,682.02 138.7,679.94 139.37,681.09 140.04,682.89 140.71,684.16 141.38,683.63 142.05,683.42 142.72,686.28 143.39,686.03 144.06,683.74 144.73,685.29 145.4,687.05 146.07,687.02 146.74,687.49 147.41,687.19 148.08,687.68 148.75,689.02 149.42,689.2 150.09,688.15 150.76,688.75 151.43,687.74 152.1,688.27 152.77,685.63 153.44,684.16 154.11,686.21 154.78,684.53 155.45,684.5 156.12,684.27 156.79,684.28 157.46,683.49 158.13,682.17 158.8,684.12 159.47,681.89 160.14,682.47 160.81,683.37 161.48,682.2 162.15,680.83 162.82,681.03 163.49,680.41 164.16,680.73 164.83,680.82 165.5,678.85 166.17,680.13 166.84,677.97 167.51,677.76 168.18,678.08 168.85,677.8 169.52,677.47 170.19,676.75 170.86,676.23 171.53,675.87 172.2,677.49 172.87,677.86 173.54,674.84 174.21,675.12 174.88,675.09 175.55,674.58 176.22,675.46 176.89,672.65 177.56,673.53 178.23,673.95 178.9,675.04 179.57,673.11 180.24,672.67 180.91,670.77 181.58,670.23 182.25,671.39 182.92,671.61 183.59,668.02 184.26,668.64 184.93,667.54 185.6,666.62 186.27,665.84 186.94,665.52 187.61,667.21 188.28,667.25 188.95,668.48 189.62,666.21 190.29,666.33 190.96,668.07 191.63,665.47 192.3,665.84 192.97,667.08 193.64,666.76 194.31,666.83 194.98,666.04 195.65,665.67 196.32,666.42 196.99,665.48 197.66,668.61 198.33,666.75 199,664.88 199.67,663.8 200.34,663.47 201.01,665.28 201.68,666.39 202.35,665.01 203.02,661.45 203.69,662.49 204.36,663.76 205.03,665.02 205.7,663.16 206.37,663.19 207.04,662.01 207.71,661.89 208.38,664.61 209.05,662.8 209.72,661.12 210.39,662.06 211.06,662.91 211.73,663.01 212.4,663.12 213.07,659.06 213.74,658.61 214.41,660.65 215.08,658.91 215.75,661.02 216.42,660.91 217.09,660.97 217.76,660.21 218.43,658.89 219.1,656.8 219.77,657.49 220.44,658.52 221.11,658.38 221.78,658.63 222.45,658.43 223.12,660 223.79,659.45 224.46,659.29 225.13,658.93 225.8,661.06 226.47,660.53 227.14,660.76 227.81,662.3 228.48,663.5 229.15,661.93 229.82,659.52 230.49,659.76 231.16,656.63 231.83,657.28 232.5,658.59 233.17,657.95 233.84,656.8 234.51,656.57 235.18,657.31 235.85,656.75 236.52,653.77 237.19,655.18 237.86,656.44 238.53,657.54 239.2,659.34 239.87,657.68 240.54,657.84 241.21,657.48 241.88,657.93 242.55,656.59 243.22,655.85 243.89,657.61 244.56,658.9 245.23,657.39 245.9,655.74 246.57,656.34 247.24,656.43 247.91,658.58 248.58,658.27 249.25,656.91 249.92,656.74 250.59,657.11 251.26,656.33 251.93,655.62 252.6,656.1 253.27,656.98 253.94,657.86 254.61,656.15 255.28,655.9 255.95,655.66 256.62,653.99 257.29,655.3 257.96,655.1 258.63,653.84 259.3,655.02 259.97,656.9 260.64,655.72 261.31,653.88 261.98,654.94 262.65,654.9 263.32,656.72 263.99,653.89 264.66,656.37 265.33,655.94 266,655.3 266.67,652.77 267.34,654.1 268.01,655.71 268.68,657.27 269.35,656.63 270.02,657.68 270.69,657.53 271.36,656.95 272.03,655.69 272.7,658.11" fill="none" stroke="#e5161d" stroke-width="2.4" stroke-linejoin="round"/>
<path d="M71.7,597.8 V748.2 H276.9" fill="none" stroke="#111" stroke-width="1.5"/>
<path d="M67.3,748.2 H71.7" stroke="#111" stroke-width="1.3"/>
<text x="62.4" y="751.4" font-size="9.1" fill="#2a2a2a" text-anchor="end" font-weight="normal" >0</text>
<path d="M67.3,729.9 H71.7" stroke="#111" stroke-width="1.3"/>
<text x="62.4" y="733.1" font-size="9.1" fill="#2a2a2a" text-anchor="end" font-weight="normal" >30</text>
<path d="M67.3,711.6 H71.7" stroke="#111" stroke-width="1.3"/>
<text x="62.4" y="714.8" font-size="9.1" fill="#2a2a2a" text-anchor="end" font-weight="normal" >60</text>
<path d="M67.3,693.3 H71.7" stroke="#111" stroke-width="1.3"/>
<text x="62.4" y="696.5" font-size="9.1" fill="#2a2a2a" text-anchor="end" font-weight="normal" >90</text>
<path d="M67.3,675 H71.7" stroke="#111" stroke-width="1.3"/>
<text x="62.4" y="678.2" font-size="9.1" fill="#2a2a2a" text-anchor="end" font-weight="normal" >120</text>
<path d="M67.3,656.7 H71.7" stroke="#111" stroke-width="1.3"/>
<text x="62.4" y="659.9" font-size="9.1" fill="#2a2a2a" text-anchor="end" font-weight="normal" >150</text>
<path d="M67.3,638.4 H71.7" stroke="#111" stroke-width="1.3"/>
<text x="62.4" y="641.6" font-size="9.1" fill="#2a2a2a" text-anchor="end" font-weight="normal" >180</text>
<path d="M67.3,620.1 H71.7" stroke="#111" stroke-width="1.3"/>
<text x="62.4" y="623.3" font-size="9.1" fill="#2a2a2a" text-anchor="end" font-weight="normal" >210</text>
<path d="M67.3,601.8 H71.7" stroke="#111" stroke-width="1.3"/>
<text x="62.4" y="605" font-size="9.1" fill="#2a2a2a" text-anchor="end" font-weight="normal" >240</text>
<path d="M71.7,748.2 V752.4" stroke="#111" stroke-width="1.3"/>
<text x="71.7" y="765.5" font-size="9.1" fill="#2a2a2a" text-anchor="middle" font-weight="normal" >0</text>
<path d="M105.2,748.2 V752.4" stroke="#111" stroke-width="1.3"/>
<text x="105.2" y="765.5" font-size="9.1" fill="#2a2a2a" text-anchor="middle" font-weight="normal" >50</text>
<path d="M138.7,748.2 V752.4" stroke="#111" stroke-width="1.3"/>
<text x="138.7" y="765.5" font-size="9.1" fill="#2a2a2a" text-anchor="middle" font-weight="normal" >100</text>
<path d="M172.2,748.2 V752.4" stroke="#111" stroke-width="1.3"/>
<text x="172.2" y="765.5" font-size="9.1" fill="#2a2a2a" text-anchor="middle" font-weight="normal" >150</text>
<path d="M205.7,748.2 V752.4" stroke="#111" stroke-width="1.3"/>
<text x="205.7" y="765.5" font-size="9.1" fill="#2a2a2a" text-anchor="middle" font-weight="normal" >200</text>
<path d="M239.2,748.2 V752.4" stroke="#111" stroke-width="1.3"/>
<text x="239.2" y="765.5" font-size="9.1" fill="#2a2a2a" text-anchor="middle" font-weight="normal" >250</text>
<path d="M272.7,748.2 V752.4" stroke="#111" stroke-width="1.3"/>
<text x="272.7" y="765.5" font-size="9.1" fill="#2a2a2a" text-anchor="middle" font-weight="normal" >300</text>
<text x="174.5" y="781" font-size="11.3" fill="#1a1a1a" text-anchor="middle" font-weight="normal" textLength="31.5" lengthAdjust="spacingAndGlyphs" stroke="#1a1a1a" stroke-width="0.25">Time (s)</text>
<text transform="translate(38.2,673.7) rotate(-90)" font-size="11.3" fill="#1a1a1a" stroke="#1a1a1a" stroke-width="0.25" text-anchor="middle" textLength="73.4" lengthAdjust="spacingAndGlyphs">Cd62p area (µm<tspan dy="-4" font-size="7.5">2</tspan><tspan dy="4">)</tspan></text>
<text x="199.2" y="627.4" font-size="8.6" fill="#3aa935" text-anchor="start" font-weight="normal" textLength="28.3" lengthAdjust="spacingAndGlyphs">Vehicle</text>
<text x="226" y="678.2" font-size="8.9" fill="#c0163c" text-anchor="start" font-weight="normal" textLength="42.4" lengthAdjust="spacingAndGlyphs">Puromycin</text>
<polygon points="71.7,966.82 72.37,954.4 73.04,970.05 73.71,958.57 74.38,962.02 75.05,964.62 75.72,952.56 76.39,951.1 77.06,953.69 77.73,947.74 78.4,957.41 79.07,953.82 79.74,959.89 80.41,950.69 81.08,957.92 81.75,952.02 82.42,947.49 83.09,950.35 83.76,945.83 84.43,944.47 85.1,936.14 85.77,940.02 86.44,941.06 87.11,933.63 87.78,934.81 88.45,935.67 89.12,936.36 89.79,942.3 90.46,934.45 91.13,927.3 91.8,933.27 92.47,923.62 93.14,921.6 93.81,930.23 94.48,918.14 95.15,925.79 95.82,921.16 96.49,926.92 97.16,926.7 97.83,924.78 98.5,925.17 99.17,927.3 99.84,926.75 100.51,924.98 101.18,915.35 101.85,922.36 102.52,921.53 103.19,922.41 103.86,922.06 104.53,914 105.2,913.79 105.87,917.14 106.54,916.14 107.21,912.51 107.88,918.02 108.55,914.09 109.22,915.93 109.89,913.92 110.56,914.8 111.23,912.18 111.9,910.51 112.57,899.36 113.24,908.76 113.91,911.04 114.58,899.81 115.25,907.39 115.92,903.76 116.59,907.87 117.26,901.82 117.93,907.13 118.6,908.89 119.27,905.63 119.94,900.29 120.61,900.64 121.28,901 121.95,901.15 122.62,897.9 123.29,894.69 123.96,891.87 124.63,896.97 125.3,892.19 125.97,882.99 126.64,885.07 127.31,889.82 127.98,895.05 128.65,894.38 129.32,887.54 129.99,897.41 130.66,897.6 131.33,900.01 132,890.7 132.67,890.42 133.34,893.07 134.01,892.33 134.68,898.97 135.35,899.23 136.02,899.07 136.69,893.86 137.36,892.31 138.03,894.47 138.7,896.14 139.37,890.61 140.04,900.44 140.71,894.1 141.38,894.95 142.05,890.07 142.72,894.77 143.39,888.85 144.06,889.59 144.73,889.53 145.4,891.64 146.07,891.22 146.74,891.39 147.41,894.01 148.08,899.56 148.75,888.62 149.42,888.99 150.09,900.39 150.76,892.81 151.43,893.47 152.1,895.72 152.77,891.37 153.44,891.5 154.11,886.1 154.78,887.46 155.45,880.27 156.12,878.59 156.79,875.79 157.46,874.53 158.13,876.14 158.8,879.16 159.47,875.1 160.14,872.53 160.81,868.42 161.48,869.45 162.15,873.81 162.82,881.29 163.49,882.58 164.16,881.42 164.83,877.69 165.5,878.11 166.17,883.35 166.84,868.43 167.51,871.85 168.18,877.5 168.85,877.77 169.52,874.44 170.19,876.24 170.86,874.03 171.53,874.23 172.2,873.6 172.87,872.32 173.54,868.85 174.21,877.34 174.88,877.04 175.55,879.99 176.22,872.52 176.89,878.74 177.56,880.24 178.23,878.54 178.9,876.37 179.57,880.41 180.24,875.52 180.91,879.77 181.58,883.19 182.25,879.67 182.92,881.91 183.59,884.79 184.26,884.4 184.93,874.37 185.6,876.09 186.27,886.82 186.94,884.09 187.61,882.48 188.28,884.31 188.95,880.73 189.62,887.15 190.29,882.41 190.96,873.02 191.63,868.45 192.3,878.22 192.97,880.06 193.64,883.45 194.31,880.4 194.98,882.11 195.65,880.23 196.32,872.36 196.99,880.76 197.66,876.5 198.33,867.38 199,876.29 199.67,872.89 200.34,880.09 201.01,879.14 201.68,866.79 202.35,874.9 203.02,875.53 203.69,874.13 204.36,877.2 205.03,869.91 205.7,875.82 206.37,877.51 207.04,880.3 207.71,878.06 208.38,881.47 209.05,876.51 209.72,874.52 210.39,876.83 211.06,871.81 211.73,876.1 212.4,874.38 213.07,878.33 213.74,863.41 214.41,873.65 215.08,880.72 215.75,879.61 216.42,875.61 217.09,872.89 217.76,873.29 218.43,870.18 219.1,875.99 219.77,871.54 220.44,867.69 221.11,875.69 221.78,869.01 222.45,868.32 223.12,875.92 223.79,879.54 224.46,876.05 225.13,879.82 225.8,868.56 226.47,885.77 227.14,879.1 227.81,882.17 228.48,885.44 229.15,876.87 229.82,884.64 230.49,877.91 231.16,891.89 231.83,885.09 232.5,886.53 233.17,880.69 233.84,888.06 234.51,881.98 235.18,883.96 235.85,889.02 236.52,882 237.19,881.02 237.86,878.59 238.53,881.24 239.2,875.07 239.87,880.59 240.54,877.17 241.21,872.13 241.88,873.1 242.55,879 243.22,876.85 243.89,876.62 244.56,873.5 245.23,867.3 245.9,871 246.57,873.86 247.24,869.77 247.91,865.52 248.58,878.23 249.25,866.51 249.92,870.18 250.59,866.06 251.26,871.81 251.93,870.84 252.6,871.71 253.27,875.21 253.94,876.73 254.61,871.28 255.28,871.08 255.95,864.11 256.62,870.03 257.29,869.37 257.96,871.08 258.63,866.98 259.3,867.2 259.97,868.37 260.64,872.64 261.31,871.69 261.98,875.03 262.65,872.72 263.32,873.08 263.99,866.88 264.66,873.28 265.33,868.79 266,879.22 266.67,868.74 267.34,867.33 268.01,869.6 268.68,873.89 269.35,875.7 270.02,871.79 270.69,867.87 271.36,871.77 272.03,870.13 272.7,873.53 272.7,903.31 272.03,896.79 271.36,893.65 270.69,894.94 270.02,894.32 269.35,892.98 268.68,895.02 268.01,892.6 267.34,893.61 266.67,889.26 266,897.62 265.33,896.28 264.66,897.54 263.99,893.69 263.32,894.84 262.65,888.63 261.98,898.48 261.31,890.36 260.64,898.37 259.97,892.9 259.3,891.16 258.63,893.95 257.96,891.36 257.29,902.59 256.62,896.97 255.95,898.03 255.28,894.46 254.61,898.98 253.94,893.61 253.27,889.98 252.6,897.05 251.93,892.52 251.26,893.08 250.59,889.83 249.92,894.04 249.25,895.63 248.58,905.07 247.91,907.79 247.24,903.96 246.57,905.49 245.9,898.24 245.23,893.47 244.56,896.02 243.89,905.51 243.22,901.73 242.55,899.24 241.88,895.97 241.21,898.8 240.54,897.42 239.87,900.36 239.2,897.87 238.53,901.81 237.86,912.85 237.19,900.44 236.52,906.12 235.85,914.72 235.18,908.69 234.51,910.58 233.84,910.94 233.17,899.25 232.5,904.65 231.83,906.01 231.16,909.28 230.49,898.76 229.82,902.82 229.15,903.22 228.48,901.57 227.81,902.85 227.14,900.45 226.47,902.81 225.8,896.11 225.13,900.73 224.46,903.71 223.79,899.22 223.12,898.69 222.45,892.84 221.78,888.36 221.11,891.09 220.44,901.31 219.77,897.05 219.1,897.3 218.43,902.4 217.76,894.93 217.09,897.22 216.42,897.79 215.75,893.63 215.08,905.53 214.41,895.66 213.74,898.47 213.07,897.76 212.4,901.45 211.73,906.66 211.06,900.35 210.39,895.37 209.72,900.18 209.05,901.63 208.38,906.98 207.71,910 207.04,904.93 206.37,900.63 205.7,900.31 205.03,896.09 204.36,900.07 203.69,900.98 203.02,897.55 202.35,902.82 201.68,903.63 201.01,896.93 200.34,905.57 199.67,898.91 199,893.58 198.33,896.62 197.66,900.36 196.99,898.18 196.32,902.68 195.65,901.1 194.98,901.1 194.31,902.2 193.64,900.43 192.97,902.26 192.3,907.63 191.63,895.82 190.96,902.32 190.29,897.69 189.62,913.1 188.95,903.99 188.28,904.14 187.61,907.08 186.94,902.2 186.27,908.49 185.6,901.7 184.93,904.03 184.26,902.95 183.59,902.04 182.92,915.1 182.25,909.57 181.58,900.72 180.91,897.73 180.24,899.08 179.57,900.02 178.9,906.41 178.23,903.34 177.56,899.35 176.89,905.92 176.22,901 175.55,904.19 174.88,896.05 174.21,892.04 173.54,895.25 172.87,903.79 172.2,896.23 171.53,893.55 170.86,900.48 170.19,899.99 169.52,902.66 168.85,901.64 168.18,903.92 167.51,902.53 166.84,900.01 166.17,901.07 165.5,896.73 164.83,903.48 164.16,906.08 163.49,901.25 162.82,903.94 162.15,897.38 161.48,890.94 160.81,888.32 160.14,892.58 159.47,897.69 158.8,904.3 158.13,901.55 157.46,901.14 156.79,893.71 156.12,902.71 155.45,901.13 154.78,911.33 154.11,915.13 153.44,911.86 152.77,909.58 152.1,910.18 151.43,913.36 150.76,911.45 150.09,918.39 149.42,912.25 148.75,916.32 148.08,920.67 147.41,913.48 146.74,911.5 146.07,911.82 145.4,911.75 144.73,924.32 144.06,911.76 143.39,914.78 142.72,918.69 142.05,913.01 141.38,916.34 140.71,918.44 140.04,913.44 139.37,916.44 138.7,915.64 138.03,922.99 137.36,924.22 136.69,920.05 136.02,922.97 135.35,917.17 134.68,911.4 134.01,915.91 133.34,915.34 132.67,917.86 132,918.74 131.33,923.03 130.66,916.76 129.99,915.84 129.32,913.14 128.65,915.48 127.98,911.87 127.31,915.05 126.64,910.38 125.97,908.63 125.3,917.54 124.63,916.23 123.96,910.69 123.29,908.71 122.62,915.73 121.95,914.2 121.28,924.77 120.61,920.44 119.94,924.75 119.27,921.81 118.6,927.72 117.93,927.23 117.26,925.65 116.59,926.73 115.92,923.34 115.25,925.33 114.58,925.02 113.91,930.04 113.24,926.46 112.57,924.14 111.9,928.23 111.23,928.07 110.56,934.92 109.89,933.33 109.22,935.65 108.55,929.5 107.88,936.97 107.21,931.76 106.54,937.56 105.87,927.67 105.2,930.24 104.53,938.03 103.86,939.43 103.19,936.69 102.52,940.55 101.85,942.35 101.18,936.96 100.51,946.23 99.84,943.37 99.17,940.24 98.5,943.34 97.83,939.74 97.16,952.57 96.49,941.25 95.82,940.9 95.15,937 94.48,943.77 93.81,945.8 93.14,937.89 92.47,940.56 91.8,947.3 91.13,946.41 90.46,946.51 89.79,953.46 89.12,950.23 88.45,953.09 87.78,947.93 87.11,946.39 86.44,952.97 85.77,955.23 85.1,955.12 84.43,956.6 83.76,956.38 83.09,957.38 82.42,964.21 81.75,962.94 81.08,973.5 80.41,965.03 79.74,969.83 79.07,969.53 78.4,968.43 77.73,967.89 77.06,968.05 76.39,968.01 75.72,971.98 75.05,973.67 74.38,972.24 73.71,971.4 73.04,976.02 72.37,971.12 71.7,978.3" fill="#d2d2ae" fill-opacity="0.85"/>
<polygon points="71.7,955.63 72.37,951.38 73.04,953.39 73.71,951.48 74.38,952.1 75.05,948.03 75.72,947.23 76.39,944.95 77.06,946.58 77.73,948.92 78.4,945.89 79.07,949.62 79.74,945.57 80.41,948.54 81.08,947.34 81.75,950.48 82.42,950.23 83.09,951.63 83.76,949.42 84.43,950.67 85.1,951.66 85.77,949.93 86.44,949.23 87.11,950.22 87.78,949.46 88.45,950.96 89.12,949.41 89.79,949.9 90.46,946.9 91.13,948.86 91.8,948.11 92.47,946.05 93.14,949.51 93.81,941.66 94.48,943.99 95.15,938.64 95.82,941.67 96.49,946.72 97.16,941.69 97.83,948.63 98.5,945.68 99.17,943.75 99.84,937.94 100.51,937.88 101.18,946.1 101.85,940.62 102.52,942.2 103.19,942.86 103.86,942.2 104.53,940.75 105.2,944.04 105.87,939.57 106.54,940.35 107.21,933.61 107.88,937.66 108.55,940.9 109.22,939.19 109.89,938.36 110.56,935.16 111.23,937.35 111.9,931.31 112.57,931.26 113.24,934.84 113.91,939.33 114.58,937.61 115.25,932.35 115.92,932.53 116.59,931.67 117.26,933.65 117.93,932.15 118.6,931.68 119.27,930.43 119.94,926.46 120.61,931.62 121.28,924.88 121.95,927.19 122.62,927.79 123.29,932.13 123.96,927.58 124.63,927.08 125.3,927.7 125.97,927.54 126.64,925.2 127.31,923.89 127.98,928.21 128.65,925.08 129.32,924.72 129.99,925.68 130.66,919.51 131.33,924.25 132,920.89 132.67,921.98 133.34,919.91 134.01,921.12 134.68,921.02 135.35,920.56 136.02,919.94 136.69,918.44 137.36,919.61 138.03,915.05 138.7,917.88 139.37,918.68 140.04,918.92 140.71,918.31 141.38,921.57 142.05,913.83 142.72,916.5 143.39,918.62 144.06,910.94 144.73,918.2 145.4,919.04 146.07,917.09 146.74,919.51 147.41,919.31 148.08,917.57 148.75,920.6 149.42,916.79 150.09,918.33 150.76,912.95 151.43,909.55 152.1,918.48 152.77,918.81 153.44,911 154.11,912.28 154.78,916.22 155.45,911.07 156.12,913.59 156.79,914.75 157.46,912.57 158.13,914.02 158.8,910.47 159.47,909.89 160.14,911.63 160.81,911.87 161.48,917.44 162.15,914.08 162.82,912.31 163.49,911.3 164.16,907.25 164.83,905.22 165.5,908.12 166.17,908.12 166.84,908.67 167.51,900.35 168.18,910.5 168.85,909.75 169.52,906.54 170.19,909.71 170.86,906.89 171.53,905.75 172.2,906.32 172.87,907.44 173.54,911.46 174.21,906.16 174.88,908.08 175.55,909.86 176.22,909.4 176.89,904.64 177.56,906.91 178.23,905.68 178.9,902 179.57,900.92 180.24,900.68 180.91,900.15 181.58,897.85 182.25,897.93 182.92,901.62 183.59,896.87 184.26,898.22 184.93,898.93 185.6,897.86 186.27,894.28 186.94,898.85 187.61,894.38 188.28,896.21 188.95,897.79 189.62,900.28 190.29,898.08 190.96,900.37 191.63,901.2 192.3,901.98 192.97,896.11 193.64,901.47 194.31,899.76 194.98,898.36 195.65,900.71 196.32,903.08 196.99,898.67 197.66,900.79 198.33,905.09 199,898.5 199.67,898.57 200.34,899.98 201.01,900.55 201.68,897.33 202.35,901.14 203.02,898.64 203.69,894.84 204.36,902.49 205.03,897.94 205.7,895.7 206.37,894.73 207.04,891.5 207.71,896.94 208.38,897.22 209.05,898.11 209.72,890.44 210.39,894 211.06,896.91 211.73,896.58 212.4,895.64 213.07,889.28 213.74,895.02 214.41,893.75 215.08,898.85 215.75,895.45 216.42,894.87 217.09,898.59 217.76,893.6 218.43,894.48 219.1,896.33 219.77,894.2 220.44,895.19 221.11,888.45 221.78,893.5 222.45,894.83 223.12,896.58 223.79,894.89 224.46,890.16 225.13,896.61 225.8,893.21 226.47,893.32 227.14,889.36 227.81,895.6 228.48,896.99 229.15,895.05 229.82,891.79 230.49,889.5 231.16,891.54 231.83,894.95 232.5,895.42 233.17,895.45 233.84,896.51 234.51,892.87 235.18,897.49 235.85,894.89 236.52,895.74 237.19,894.63 237.86,895.43 238.53,898.51 239.2,900.31 239.87,897.75 240.54,895.94 241.21,898.24 241.88,890.79 242.55,897.65 243.22,897.93 243.89,900.26 244.56,895.76 245.23,894.98 245.9,898.56 246.57,902.83 247.24,901.75 247.91,899.12 248.58,896.47 249.25,899.61 249.92,896.24 250.59,894.51 251.26,901.34 251.93,899.33 252.6,901.5 253.27,902.65 253.94,899.05 254.61,897.24 255.28,898.19 255.95,901.58 256.62,898.23 257.29,897.12 257.96,896.29 258.63,895.8 259.3,900.02 259.97,898.15 260.64,900.34 261.31,899.32 261.98,899.76 262.65,897.41 263.32,897.08 263.99,897.67 264.66,896.37 265.33,894.21 266,896.24 266.67,896.12 267.34,903 268.01,899.33 268.68,895.22 269.35,899.47 270.02,898.01 270.69,898.52 271.36,902.56 272.03,898.78 272.7,894.16 272.7,914.36 272.03,912.89 271.36,915.05 270.69,913.41 270.02,911.89 269.35,911.24 268.68,906.81 268.01,917.45 267.34,911.52 266.67,908.53 266,907.71 265.33,910.28 264.66,907.48 263.99,908.26 263.32,912.77 262.65,911.24 261.98,911.62 261.31,910.5 260.64,911.22 259.97,915.6 259.3,908.39 258.63,907.95 257.96,908.3 257.29,908.81 256.62,907.9 255.95,913.67 255.28,910.57 254.61,908.72 253.94,913.99 253.27,913.75 252.6,909.85 251.93,910.78 251.26,915.3 250.59,911.86 249.92,911.79 249.25,910.85 248.58,913.58 247.91,910.97 247.24,907.5 246.57,913.5 245.9,910.41 245.23,911.81 244.56,908.36 243.89,916.06 243.22,913.64 242.55,910.02 241.88,912.05 241.21,909.04 240.54,906.21 239.87,910.49 239.2,911.43 238.53,903.16 237.86,909.47 237.19,904.47 236.52,906.28 235.85,906.49 235.18,909.78 234.51,907.38 233.84,908.39 233.17,912.49 232.5,906.61 231.83,904.62 231.16,905.88 230.49,904.84 229.82,904.82 229.15,904.86 228.48,907.89 227.81,910.82 227.14,905.86 226.47,905.57 225.8,907.84 225.13,907.28 224.46,909.96 223.79,907.19 223.12,907.22 222.45,906.09 221.78,906.52 221.11,900.1 220.44,903.47 219.77,908.21 219.1,906.4 218.43,906.82 217.76,905.74 217.09,910.57 216.42,909.13 215.75,908.48 215.08,904.26 214.41,912.11 213.74,910.34 213.07,905.07 212.4,907.49 211.73,907.7 211.06,906.74 210.39,906.22 209.72,905.73 209.05,912.13 208.38,910.41 207.71,905.7 207.04,908.31 206.37,905.76 205.7,909.55 205.03,908.54 204.36,913.97 203.69,914.58 203.02,906.88 202.35,910.4 201.68,909.33 201.01,914.21 200.34,912.76 199.67,911.64 199,913.43 198.33,913.26 197.66,913.04 196.99,912.79 196.32,914.5 195.65,911.5 194.98,914.55 194.31,910.33 193.64,913.87 192.97,909.35 192.3,912.75 191.63,911.41 190.96,912.43 190.29,907.79 189.62,913.13 188.95,916.01 188.28,909.75 187.61,909.68 186.94,909.15 186.27,910.89 185.6,913.77 184.93,908.26 184.26,910.74 183.59,909.87 182.92,916.15 182.25,912.76 181.58,914.97 180.91,910.88 180.24,913.39 179.57,916.23 178.9,914.56 178.23,919.01 177.56,916.81 176.89,917.04 176.22,920.42 175.55,922.31 174.88,918.39 174.21,917.5 173.54,917.29 172.87,922.37 172.2,921.55 171.53,923.63 170.86,921.15 170.19,921.72 169.52,918.41 168.85,921.72 168.18,919.69 167.51,916.36 166.84,923.13 166.17,923.03 165.5,920.25 164.83,919.85 164.16,922.76 163.49,928.12 162.82,923.22 162.15,926.24 161.48,926.07 160.81,924.28 160.14,928.67 159.47,922.24 158.8,924.44 158.13,922.61 157.46,924.27 156.79,927.88 156.12,922.71 155.45,924.43 154.78,927.03 154.11,925.25 153.44,924.69 152.77,924.86 152.1,930.49 151.43,932.3 150.76,930.35 150.09,930.18 149.42,927.99 148.75,930.8 148.08,927.43 147.41,930.09 146.74,927.81 146.07,929.86 145.4,932.71 144.73,928.02 144.06,925.37 143.39,925.15 142.72,930.11 142.05,928.82 141.38,930.86 140.71,929.35 140.04,932.14 139.37,932.09 138.7,929.33 138.03,928.15 137.36,931.37 136.69,936.73 136.02,933.23 135.35,932.78 134.68,933.15 134.01,930.37 133.34,933.22 132.67,933.82 132,930.4 131.33,934.62 130.66,932.03 129.99,937.85 129.32,937.1 128.65,944.72 127.98,936.25 127.31,931.19 126.64,934.97 125.97,937.22 125.3,936.79 124.63,938.34 123.96,937.32 123.29,938.36 122.62,939.77 121.95,945.31 121.28,937.77 120.61,936.43 119.94,939.67 119.27,943.56 118.6,942.82 117.93,942.54 117.26,942.79 116.59,943.35 115.92,939.63 115.25,947.92 114.58,951.68 113.91,945.86 113.24,946.2 112.57,944.19 111.9,944.67 111.23,950.84 110.56,945.75 109.89,942.82 109.22,950.19 108.55,947.51 107.88,949.83 107.21,953.07 106.54,947.86 105.87,948.59 105.2,953.08 104.53,950.42 103.86,955.51 103.19,950.7 102.52,957.06 101.85,948.84 101.18,957.68 100.51,950.11 99.84,953.94 99.17,958.99 98.5,955.96 97.83,954.4 97.16,958.6 96.49,957.96 95.82,950.07 95.15,951.62 94.48,954.06 93.81,954.78 93.14,955.52 92.47,952.87 91.8,957.26 91.13,954.21 90.46,959.51 89.79,961.17 89.12,957.52 88.45,957.85 87.78,953.8 87.11,960.96 86.44,960.04 85.77,959.46 85.1,966.13 84.43,961.42 83.76,960.43 83.09,959.6 82.42,959.44 81.75,958.19 81.08,955.54 80.41,960.94 79.74,957.28 79.07,958.74 78.4,953.32 77.73,955.11 77.06,954.95 76.39,955.38 75.72,957.23 75.05,957.78 74.38,961.47 73.71,954.62 73.04,962.1 72.37,958.56 71.7,959.95" fill="#f2ad9c" fill-opacity="0.75"/>
<polyline points="71.7,969.09 72.37,969.04 73.04,970.77 73.71,967.12 74.38,966.73 75.05,966.1 75.72,965.7 76.39,962.49 77.06,962.24 77.73,961.1 78.4,963.07 79.07,963.01 79.74,963.23 80.41,961.04 81.08,964.15 81.75,956.17 82.42,955.03 83.09,953.47 83.76,950.23 84.43,950.27 85.1,947.8 85.77,945.66 86.44,948.72 87.11,942.77 87.78,943.29 88.45,941.87 89.12,943.86 89.79,942.5 90.46,936.73 91.13,938.15 91.8,937.32 92.47,934.38 93.14,930.68 93.81,935.79 94.48,928.97 95.15,930.41 95.82,930.21 96.49,934.3 97.16,933.57 97.83,931.45 98.5,934.58 99.17,935.52 99.84,934.91 100.51,934.36 101.18,931.17 101.85,930.81 102.52,931.47 103.19,928.72 103.86,930.9 104.53,931.67 105.2,924.03 105.87,927 106.54,923.07 107.21,924.56 107.88,924.7 108.55,922.78 109.22,924.24 109.89,924.1 110.56,922.3 111.23,921.54 111.9,918.67 112.57,914.93 113.24,919.35 113.91,919.7 114.58,916.32 115.25,915.35 115.92,913.51 116.59,916.06 117.26,913.88 117.93,914.05 118.6,916.65 119.27,913.11 119.94,915.44 120.61,911.75 121.28,911.53 121.95,910.15 122.62,904.51 123.29,903.15 123.96,904 124.63,903.49 125.3,904.73 125.97,900.47 126.64,899.55 127.31,901.25 127.98,904.89 128.65,903.74 129.32,904.62 129.99,903.8 130.66,908.02 131.33,909.9 132,907.49 132.67,907.31 133.34,905.53 134.01,904.59 134.68,908.02 135.35,911.73 136.02,908.18 136.69,908.51 137.36,906.68 138.03,911.67 138.7,908.19 139.37,906.73 140.04,907.47 140.71,905.61 141.38,905.78 142.05,905.54 142.72,903.4 143.39,902.08 144.06,901.38 144.73,902.23 145.4,902.43 146.07,901.2 146.74,901.91 147.41,904.37 148.08,903.26 148.75,902.21 149.42,904.67 150.09,906.97 150.76,903.13 151.43,903.61 152.1,904.26 152.77,901.24 153.44,901.75 154.11,897.64 154.78,897.12 155.45,894.85 156.12,891.22 156.79,889.21 157.46,889.94 158.13,893.27 158.8,889.96 159.47,887.75 160.14,881.15 160.81,875.87 161.48,881.09 162.15,885.76 162.82,890.33 163.49,889.59 164.16,890.94 164.83,888.55 165.5,889.69 166.17,891.41 166.84,889.39 167.51,885.6 168.18,887.54 168.85,890.83 169.52,885.88 170.19,886 170.86,885.19 171.53,886.58 172.2,885.81 172.87,883.8 173.54,887.79 174.21,886.81 174.88,887.49 175.55,890.33 176.22,888.83 176.89,887.45 177.56,889.57 178.23,886.26 178.9,889.39 179.57,886.76 180.24,887.43 180.91,888.75 181.58,891.55 182.25,892.83 182.92,896.36 183.59,893.74 184.26,893.6 184.93,892.71 185.6,892.01 186.27,893.79 186.94,895.78 187.61,893.05 188.28,893.65 188.95,893.42 189.62,895.05 190.29,890.9 190.96,892.45 191.63,887.57 192.3,890.91 192.97,890.74 193.64,889.17 194.31,889.93 194.98,891.28 195.65,890.77 196.32,889.72 196.99,888 197.66,884.89 198.33,884.24 199,884.39 199.67,883.2 200.34,888.15 201.01,886.39 201.68,885.44 202.35,886.94 203.02,885.09 203.69,887.2 204.36,889.2 205.03,886.6 205.7,889.25 206.37,889.82 207.04,892.88 207.71,889.81 208.38,891.04 209.05,888.17 209.72,885.61 210.39,887.44 211.06,889.65 211.73,890.83 212.4,886.37 213.07,888.21 213.74,886.93 214.41,887 215.08,893.47 215.75,888.55 216.42,886.77 217.09,885.87 217.76,885.94 218.43,884.98 219.1,886.74 219.77,883.95 220.44,884.92 221.11,883.66 221.78,881.36 222.45,883.86 223.12,887.45 223.79,886.43 224.46,890.03 225.13,888.6 225.8,886.38 226.47,890.83 227.14,890.98 227.81,892.89 228.48,892.02 229.15,891.98 229.82,892.32 230.49,893.48 231.16,897.06 231.83,896.47 232.5,895.64 233.17,893.26 233.84,898 234.51,893.86 235.18,896.26 235.85,898.91 236.52,892.87 237.19,892.49 237.86,894.13 238.53,891.74 239.2,889.76 239.87,892.32 240.54,887.39 241.21,889.24 241.88,886.06 242.55,887.44 243.22,889.41 243.89,887.82 244.56,886.85 245.23,885.02 245.9,887.46 246.57,886.61 247.24,883.56 247.91,883.58 248.58,883.51 249.25,881.35 249.92,883.63 250.59,877.81 251.26,881.61 251.93,880.91 252.6,881.91 253.27,880.29 253.94,882.68 254.61,884.25 255.28,883.04 255.95,882.23 256.62,883.6 257.29,880.18 257.96,881.77 258.63,881.31 259.3,881.57 259.97,881.73 260.64,883.81 261.31,880.88 261.98,883.49 262.65,883.13 263.32,880.49 263.99,880.35 264.66,883.82 265.33,883.23 266,883.93 266.67,880.16 267.34,881.61 268.01,881.73 268.68,883.27 269.35,883.61 270.02,881.75 270.69,884.49 271.36,883.56 272.03,884.49 272.7,884.75" fill="none" stroke="#a5de8e" stroke-width="3.6" stroke-linejoin="round" stroke-opacity="0.55"/>
<polyline points="71.7,969.09 72.37,969.04 73.04,970.77 73.71,967.12 74.38,966.73 75.05,966.1 75.72,965.7 76.39,962.49 77.06,962.24 77.73,961.1 78.4,963.07 79.07,963.01 79.74,963.23 80.41,961.04 81.08,964.15 81.75,956.17 82.42,955.03 83.09,953.47 83.76,950.23 84.43,950.27 85.1,947.8 85.77,945.66 86.44,948.72 87.11,942.77 87.78,943.29 88.45,941.87 89.12,943.86 89.79,942.5 90.46,936.73 91.13,938.15 91.8,937.32 92.47,934.38 93.14,930.68 93.81,935.79 94.48,928.97 95.15,930.41 95.82,930.21 96.49,934.3 97.16,933.57 97.83,931.45 98.5,934.58 99.17,935.52 99.84,934.91 100.51,934.36 101.18,931.17 101.85,930.81 102.52,931.47 103.19,928.72 103.86,930.9 104.53,931.67 105.2,924.03 105.87,927 106.54,923.07 107.21,924.56 107.88,924.7 108.55,922.78 109.22,924.24 109.89,924.1 110.56,922.3 111.23,921.54 111.9,918.67 112.57,914.93 113.24,919.35 113.91,919.7 114.58,916.32 115.25,915.35 115.92,913.51 116.59,916.06 117.26,913.88 117.93,914.05 118.6,916.65 119.27,913.11 119.94,915.44 120.61,911.75 121.28,911.53 121.95,910.15 122.62,904.51 123.29,903.15 123.96,904 124.63,903.49 125.3,904.73 125.97,900.47 126.64,899.55 127.31,901.25 127.98,904.89 128.65,903.74 129.32,904.62 129.99,903.8 130.66,908.02 131.33,909.9 132,907.49 132.67,907.31 133.34,905.53 134.01,904.59 134.68,908.02 135.35,911.73 136.02,908.18 136.69,908.51 137.36,906.68 138.03,911.67 138.7,908.19 139.37,906.73 140.04,907.47 140.71,905.61 141.38,905.78 142.05,905.54 142.72,903.4 143.39,902.08 144.06,901.38 144.73,902.23 145.4,902.43 146.07,901.2 146.74,901.91 147.41,904.37 148.08,903.26 148.75,902.21 149.42,904.67 150.09,906.97 150.76,903.13 151.43,903.61 152.1,904.26 152.77,901.24 153.44,901.75 154.11,897.64 154.78,897.12 155.45,894.85 156.12,891.22 156.79,889.21 157.46,889.94 158.13,893.27 158.8,889.96 159.47,887.75 160.14,881.15 160.81,875.87 161.48,881.09 162.15,885.76 162.82,890.33 163.49,889.59 164.16,890.94 164.83,888.55 165.5,889.69 166.17,891.41 166.84,889.39 167.51,885.6 168.18,887.54 168.85,890.83 169.52,885.88 170.19,886 170.86,885.19 171.53,886.58 172.2,885.81 172.87,883.8 173.54,887.79 174.21,886.81 174.88,887.49 175.55,890.33 176.22,888.83 176.89,887.45 177.56,889.57 178.23,886.26 178.9,889.39 179.57,886.76 180.24,887.43 180.91,888.75 181.58,891.55 182.25,892.83 182.92,896.36 183.59,893.74 184.26,893.6 184.93,892.71 185.6,892.01 186.27,893.79 186.94,895.78 187.61,893.05 188.28,893.65 188.95,893.42 189.62,895.05 190.29,890.9 190.96,892.45 191.63,887.57 192.3,890.91 192.97,890.74 193.64,889.17 194.31,889.93 194.98,891.28 195.65,890.77 196.32,889.72 196.99,888 197.66,884.89 198.33,884.24 199,884.39 199.67,883.2 200.34,888.15 201.01,886.39 201.68,885.44 202.35,886.94 203.02,885.09 203.69,887.2 204.36,889.2 205.03,886.6 205.7,889.25 206.37,889.82 207.04,892.88 207.71,889.81 208.38,891.04 209.05,888.17 209.72,885.61 210.39,887.44 211.06,889.65 211.73,890.83 212.4,886.37 213.07,888.21 213.74,886.93 214.41,887 215.08,893.47 215.75,888.55 216.42,886.77 217.09,885.87 217.76,885.94 218.43,884.98 219.1,886.74 219.77,883.95 220.44,884.92 221.11,883.66 221.78,881.36 222.45,883.86 223.12,887.45 223.79,886.43 224.46,890.03 225.13,888.6 225.8,886.38 226.47,890.83 227.14,890.98 227.81,892.89 228.48,892.02 229.15,891.98 229.82,892.32 230.49,893.48 231.16,897.06 231.83,896.47 232.5,895.64 233.17,893.26 233.84,898 234.51,893.86 235.18,896.26 235.85,898.91 236.52,892.87 237.19,892.49 237.86,894.13 238.53,891.74 239.2,889.76 239.87,892.32 240.54,887.39 241.21,889.24 241.88,886.06 242.55,887.44 243.22,889.41 243.89,887.82 244.56,886.85 245.23,885.02 245.9,887.46 246.57,886.61 247.24,883.56 247.91,883.58 248.58,883.51 249.25,881.35 249.92,883.63 250.59,877.81 251.26,881.61 251.93,880.91 252.6,881.91 253.27,880.29 253.94,882.68 254.61,884.25 255.28,883.04 255.95,882.23 256.62,883.6 257.29,880.18 257.96,881.77 258.63,881.31 259.3,881.57 259.97,881.73 260.64,883.81 261.31,880.88 261.98,883.49 262.65,883.13 263.32,880.49 263.99,880.35 264.66,883.82 265.33,883.23 266,883.93 266.67,880.16 267.34,881.61 268.01,881.73 268.68,883.27 269.35,883.61 270.02,881.75 270.69,884.49 271.36,883.56 272.03,884.49 272.7,884.75" fill="none" stroke="#3aa935" stroke-width="2.4" stroke-linejoin="round"/>
<polyline points="71.7,956.85 72.37,956.15 73.04,956.68 73.71,952.73 74.38,955.63 75.05,953.81 75.72,951.48 76.39,950.54 77.06,950.74 77.73,953.11 78.4,950.15 79.07,952.81 79.74,952.87 80.41,952.95 81.08,953.52 81.75,954.79 82.42,952.83 83.09,954.61 83.76,954.33 84.43,958.05 85.1,955.62 85.77,955.61 86.44,954.44 87.11,953.98 87.78,953.19 88.45,953.32 89.12,952.77 89.79,952.32 90.46,951.8 91.13,951.62 91.8,951.88 92.47,950.63 93.14,951.7 93.81,947.92 94.48,948.11 95.15,947.14 95.82,948.85 96.49,950.72 97.16,951.41 97.83,950.48 98.5,949.8 99.17,949.11 99.84,948.7 100.51,947.09 101.18,950.36 101.85,945.85 102.52,946.98 103.19,946.49 103.86,948.71 104.53,946.52 105.2,947.92 105.87,945.42 106.54,944.66 107.21,944.27 107.88,944.32 108.55,944.17 109.22,943.89 109.89,941.89 110.56,942.08 111.23,941.63 111.9,938.35 112.57,940.11 113.24,941.5 113.91,943.26 114.58,943.64 115.25,939.97 115.92,937.47 116.59,938.83 117.26,938.98 117.93,937.35 118.6,936.01 119.27,934.15 119.94,934.57 120.61,934.97 121.28,933.3 121.95,934.78 122.62,935.71 123.29,935.39 123.96,934.09 124.63,933.67 125.3,932.83 125.97,932.35 126.64,928.98 127.31,930.38 127.98,933.66 128.65,933.28 129.32,930.66 129.99,930.79 130.66,926.46 131.33,928.2 132,928.23 132.67,927.17 133.34,926.91 134.01,925.68 134.68,926.17 135.35,925.36 136.02,926.13 136.69,928.84 137.36,925.4 138.03,922.53 138.7,924.92 139.37,924.9 140.04,922.89 140.71,924.12 141.38,923.65 142.05,923.96 142.72,922.95 143.39,923.62 144.06,920.98 144.73,922.79 145.4,923.74 146.07,925.58 146.74,924.11 147.41,925.04 148.08,923.22 148.75,922.78 149.42,919.61 150.09,922.99 150.76,922.58 151.43,921.04 152.1,924.42 152.77,921.71 153.44,919.13 154.11,920.48 154.78,920.81 155.45,919.04 156.12,919.55 156.79,919.48 157.46,918.48 158.13,920.09 158.8,916.78 159.47,918.55 160.14,918.38 160.81,918.61 161.48,921.34 162.15,920.66 162.82,918.56 163.49,917.23 164.16,915.06 164.83,912.19 165.5,913.65 166.17,914.95 166.84,915.96 167.51,913.42 168.18,915.2 168.85,914.81 169.52,912.73 170.19,913.93 170.86,914.16 171.53,913.71 172.2,915.79 172.87,914.27 173.54,913.29 174.21,912.61 174.88,912.84 175.55,914.89 176.22,913.28 176.89,910.32 177.56,911.07 178.23,911.04 178.9,908.72 179.57,907.59 180.24,907.35 180.91,906.28 181.58,905.51 182.25,905.45 182.92,905.39 183.59,903.15 184.26,906.13 184.93,902.35 185.6,903.57 186.27,905.02 186.94,903.31 187.61,902.11 188.28,905.18 188.95,904.52 189.62,903.7 190.29,903.73 190.96,905.02 191.63,907.14 192.3,906.72 192.97,903.84 193.64,907.35 194.31,903.41 194.98,906.55 195.65,907.8 196.32,909.03 196.99,907.93 197.66,907.22 198.33,908.32 199,904.3 199.67,903.89 200.34,904.54 201.01,906.65 201.68,905.76 202.35,905.08 203.02,903.37 203.69,903.86 204.36,905.16 205.03,904.09 205.7,903.59 206.37,902.94 207.04,901.41 207.71,902.86 208.38,904.16 209.05,900.92 209.72,900.14 210.39,902.71 211.06,900.81 211.73,901.81 212.4,900.43 213.07,900.14 213.74,902.52 214.41,902.67 215.08,901.46 215.75,902.64 216.42,902.64 217.09,902.14 217.76,900.98 218.43,900.45 219.1,901.09 219.77,900.5 220.44,898.35 221.11,898.43 221.78,898.7 222.45,900.24 223.12,900.68 223.79,901.53 224.46,901.29 225.13,902.5 225.8,900.67 226.47,900.44 227.14,900.76 227.81,900.77 228.48,901.65 229.15,899.27 229.82,898.92 230.49,898.21 231.16,899.29 231.83,900.45 232.5,899.56 233.17,902.29 233.84,903.46 234.51,900.92 235.18,900.89 235.85,901.35 236.52,900.19 237.19,901.8 237.86,902.05 238.53,902.01 239.2,904.26 239.87,903.01 240.54,902.47 241.21,903.33 241.88,904.58 242.55,905.21 243.22,907.36 243.89,906.33 244.56,903.27 245.23,902.62 245.9,904.33 246.57,905.86 247.24,903.88 247.91,903.5 248.58,904.26 249.25,906.28 249.92,905 250.59,904.56 251.26,906.02 251.93,906.82 252.6,906.37 253.27,905.29 253.94,904.58 254.61,904.11 255.28,904.52 255.95,905.2 256.62,904.16 257.29,902.82 257.96,903.42 258.63,902.79 259.3,903.47 259.97,904.59 260.64,904.49 261.31,904.16 261.98,905.84 262.65,904.59 263.32,904.78 263.99,903.78 264.66,902.73 265.33,903.24 266,904.08 266.67,903.51 267.34,905.04 268.01,903.73 268.68,902.48 269.35,903.31 270.02,902.58 270.69,905.05 271.36,907.76 272.03,905.71 272.7,903.09" fill="none" stroke="#e5161d" stroke-width="2.4" stroke-linejoin="round"/>
<path d="M71.7,833.7 V984.6 H276.9" fill="none" stroke="#111" stroke-width="1.5"/>
<path d="M67.3,984.6 H71.7" stroke="#111" stroke-width="1.3"/>
<text x="62.4" y="987.8" font-size="9.1" fill="#2a2a2a" text-anchor="end" font-weight="normal" >0</text>
<path d="M67.3,955.3 H71.7" stroke="#111" stroke-width="1.3"/>
<text x="62.4" y="958.5" font-size="9.1" fill="#2a2a2a" text-anchor="end" font-weight="normal" >50</text>
<path d="M67.3,926 H71.7" stroke="#111" stroke-width="1.3"/>
<text x="62.4" y="929.2" font-size="9.1" fill="#2a2a2a" text-anchor="end" font-weight="normal" >100</text>
<path d="M67.3,896.7 H71.7" stroke="#111" stroke-width="1.3"/>
<text x="62.4" y="899.9" font-size="9.1" fill="#2a2a2a" text-anchor="end" font-weight="normal" >150</text>
<path d="M67.3,867.4 H71.7" stroke="#111" stroke-width="1.3"/>
<text x="62.4" y="870.6" font-size="9.1" fill="#2a2a2a" text-anchor="end" font-weight="normal" >200</text>
<path d="M67.3,838.1 H71.7" stroke="#111" stroke-width="1.3"/>
<text x="62.4" y="841.3" font-size="9.1" fill="#2a2a2a" text-anchor="end" font-weight="normal" >250</text>
<path d="M71.7,984.6 V988.8" stroke="#111" stroke-width="1.3"/>
<text x="71.7" y="1001.9" font-size="9.1" fill="#2a2a2a" text-anchor="middle" font-weight="normal" >0</text>
<path d="M105.2,984.6 V988.8" stroke="#111" stroke-width="1.3"/>
<text x="105.2" y="1001.9" font-size="9.1" fill="#2a2a2a" text-anchor="middle" font-weight="normal" >50</text>
<path d="M138.7,984.6 V988.8" stroke="#111" stroke-width="1.3"/>
<text x="138.7" y="1001.9" font-size="9.1" fill="#2a2a2a" text-anchor="middle" font-weight="normal" >100</text>
<path d="M172.2,984.6 V988.8" stroke="#111" stroke-width="1.3"/>
<text x="172.2" y="1001.9" font-size="9.1" fill="#2a2a2a" text-anchor="middle" font-weight="normal" >150</text>
<path d="M205.7,984.6 V988.8" stroke="#111" stroke-width="1.3"/>
<text x="205.7" y="1001.9" font-size="9.1" fill="#2a2a2a" text-anchor="middle" font-weight="normal" >200</text>
<path d="M239.2,984.6 V988.8" stroke="#111" stroke-width="1.3"/>
<text x="239.2" y="1001.9" font-size="9.1" fill="#2a2a2a" text-anchor="middle" font-weight="normal" >250</text>
<path d="M272.7,984.6 V988.8" stroke="#111" stroke-width="1.3"/>
<text x="272.7" y="1001.9" font-size="9.1" fill="#2a2a2a" text-anchor="middle" font-weight="normal" >300</text>
<text x="174.5" y="1017.4" font-size="11.3" fill="#1a1a1a" text-anchor="middle" font-weight="normal" textLength="31.5" lengthAdjust="spacingAndGlyphs" stroke="#1a1a1a" stroke-width="0.25">Time (s)</text>
<text transform="translate(38.2,910.5) rotate(-90)" font-size="11.3" fill="#1a1a1a" stroke="#1a1a1a" stroke-width="0.25" text-anchor="middle" textLength="69.8" lengthAdjust="spacingAndGlyphs">Fibrin area (µm<tspan dy="-4" font-size="7.5">2</tspan><tspan dy="4">)</tspan></text>
<text x="183.1" y="866.8" font-size="8.6" fill="#3aa935" text-anchor="start" font-weight="normal" textLength="28.2" lengthAdjust="spacingAndGlyphs">Vehicle</text>
<text x="203.8" y="932.6" font-size="8.9" fill="#c0163c" text-anchor="start" font-weight="normal" textLength="42.4" lengthAdjust="spacingAndGlyphs">Puromycin</text>
<path d="M363.2,361.7 V511.6 H509.9" fill="none" stroke="#111" stroke-width="1.5"/>
<path d="M359.2,365.7 H363.2" stroke="#111" stroke-width="1.3"/>
<text x="349.2" y="368.7" dy="0.6" font-size="8.8" fill="#2a2a2a" text-anchor="end" textLength="21.3" lengthAdjust="spacingAndGlyphs">3×10</text><text x="351.3" y="368.7" dy="-3.7" font-size="4.6" fill="#2a2a2a">5</text>
<path d="M359.2,414.3 H363.2" stroke="#111" stroke-width="1.3"/>
<text x="349.2" y="417.3" dy="0.6" font-size="8.8" fill="#2a2a2a" text-anchor="end" textLength="21.3" lengthAdjust="spacingAndGlyphs">2×10</text><text x="351.3" y="417.3" dy="-3.7" font-size="4.6" fill="#2a2a2a">5</text>
<path d="M359.2,462.9 H363.2" stroke="#111" stroke-width="1.3"/>
<text x="349.2" y="465.9" dy="0.6" font-size="8.8" fill="#2a2a2a" text-anchor="end" textLength="21.3" lengthAdjust="spacingAndGlyphs">1×10</text><text x="351.3" y="465.9" dy="-3.7" font-size="4.6" fill="#2a2a2a">5</text>
<path d="M359.2,511.6 H363.2" stroke="#111" stroke-width="1.3"/>
<text x="353.8" y="514.6" font-size="8.8" fill="#2a2a2a" text-anchor="end">0</text>
<path d="M404.9,511.6 V515.6" stroke="#111" stroke-width="1.3"/>
<path d="M467.4,511.6 V515.6" stroke="#111" stroke-width="1.3"/>
<text x="404.9" y="528.6" font-size="8.8" fill="#2a2a2a" text-anchor="middle" font-weight="normal" textLength="28.2" lengthAdjust="spacingAndGlyphs">Vehicle</text>
<text x="467.4" y="528.6" font-size="8.8" fill="#2a2a2a" text-anchor="middle" font-weight="normal" textLength="42" lengthAdjust="spacingAndGlyphs">Puromycin</text>
<text transform="translate(319.4,437.5) rotate(-90)" font-size="11.3" fill="#1a1a1a" stroke="#1a1a1a" stroke-width="0.25" text-anchor="middle" textLength="96.6" lengthAdjust="spacingAndGlyphs">Cd41(+) AUC (µm<tspan dy="-4" font-size="7.5">2</tspan><tspan dy="4">-sec)</tspan></text>
<text x="417.5" y="360.4" font-size="9.4" fill="#2a2a2a"><tspan font-style="italic">P</tspan> &lt; .0305</text>
<circle cx="405.1" cy="373.1" r="2.75" fill="#37a53a" stroke="#2b8c31" stroke-width="0.6"/>
<circle cx="410.9" cy="391.8" r="2.75" fill="#37a53a" stroke="#2b8c31" stroke-width="0.6"/>
<circle cx="398.9" cy="395.7" r="2.75" fill="#37a53a" stroke="#2b8c31" stroke-width="0.6"/>
<circle cx="404.9" cy="400.8" r="2.75" fill="#37a53a" stroke="#2b8c31" stroke-width="0.6"/>
<circle cx="404.9" cy="408" r="2.75" fill="#37a53a" stroke="#2b8c31" stroke-width="0.6"/>
<circle cx="398.9" cy="415.4" r="2.75" fill="#37a53a" stroke="#2b8c31" stroke-width="0.6"/>
<circle cx="404.9" cy="414.3" r="2.75" fill="#37a53a" stroke="#2b8c31" stroke-width="0.6"/>
<circle cx="410.9" cy="420.9" r="2.75" fill="#37a53a" stroke="#2b8c31" stroke-width="0.6"/>
<circle cx="404.9" cy="425.8" r="2.75" fill="#37a53a" stroke="#2b8c31" stroke-width="0.6"/>
<circle cx="404.9" cy="434.4" r="2.75" fill="#37a53a" stroke="#2b8c31" stroke-width="0.6"/>
<circle cx="398.9" cy="445.9" r="2.75" fill="#37a53a" stroke="#2b8c31" stroke-width="0.6"/>
<circle cx="404.9" cy="443.5" r="2.75" fill="#37a53a" stroke="#2b8c31" stroke-width="0.6"/>
<circle cx="392.6" cy="450.5" r="2.75" fill="#37a53a" stroke="#2b8c31" stroke-width="0.6"/>
<circle cx="404.9" cy="450.5" r="2.75" fill="#37a53a" stroke="#2b8c31" stroke-width="0.6"/>
<circle cx="416.8" cy="450.5" r="2.75" fill="#37a53a" stroke="#2b8c31" stroke-width="0.6"/>
<circle cx="423.2" cy="449.9" r="2.75" fill="#37a53a" stroke="#2b8c31" stroke-width="0.6"/>
<circle cx="398.9" cy="454.2" r="2.75" fill="#37a53a" stroke="#2b8c31" stroke-width="0.6"/>
<circle cx="411" cy="454.2" r="2.75" fill="#37a53a" stroke="#2b8c31" stroke-width="0.6"/>
<circle cx="423.2" cy="458" r="2.75" fill="#37a53a" stroke="#2b8c31" stroke-width="0.6"/>
<circle cx="398.9" cy="461.6" r="2.75" fill="#37a53a" stroke="#2b8c31" stroke-width="0.6"/>
<circle cx="386.8" cy="465.3" r="2.75" fill="#37a53a" stroke="#2b8c31" stroke-width="0.6"/>
<circle cx="392.6" cy="464.7" r="2.75" fill="#37a53a" stroke="#2b8c31" stroke-width="0.6"/>
<circle cx="404.9" cy="463.9" r="2.75" fill="#37a53a" stroke="#2b8c31" stroke-width="0.6"/>
<circle cx="411" cy="463" r="2.75" fill="#37a53a" stroke="#2b8c31" stroke-width="0.6"/>
<circle cx="416.8" cy="465.7" r="2.75" fill="#37a53a" stroke="#2b8c31" stroke-width="0.6"/>
<circle cx="423.2" cy="465.3" r="2.75" fill="#37a53a" stroke="#2b8c31" stroke-width="0.6"/>
<circle cx="398.9" cy="468" r="2.75" fill="#37a53a" stroke="#2b8c31" stroke-width="0.6"/>
<circle cx="404.9" cy="470.8" r="2.75" fill="#37a53a" stroke="#2b8c31" stroke-width="0.6"/>
<circle cx="411" cy="470.1" r="2.75" fill="#37a53a" stroke="#2b8c31" stroke-width="0.6"/>
<circle cx="404.9" cy="481.5" r="2.75" fill="#37a53a" stroke="#2b8c31" stroke-width="0.6"/>
<circle cx="404.9" cy="490" r="2.75" fill="#37a53a" stroke="#2b8c31" stroke-width="0.6"/>
<circle cx="404.9" cy="496.7" r="2.75" fill="#37a53a" stroke="#2b8c31" stroke-width="0.6"/>
<circle cx="463.6" cy="400.2" r="2.9" fill="#fff" fill-opacity="0.5" stroke="#a2183c" stroke-width="1.1"/>
<circle cx="471" cy="405.3" r="2.9" fill="#fff" fill-opacity="0.5" stroke="#a2183c" stroke-width="1.1"/>
<circle cx="467.4" cy="413.6" r="2.9" fill="#fff" fill-opacity="0.5" stroke="#a2183c" stroke-width="1.1"/>
<circle cx="456.6" cy="424.4" r="2.9" fill="#fff" fill-opacity="0.5" stroke="#a2183c" stroke-width="1.1"/>
<circle cx="463.9" cy="426.4" r="2.9" fill="#fff" fill-opacity="0.5" stroke="#a2183c" stroke-width="1.1"/>
<circle cx="478" cy="425.5" r="2.9" fill="#fff" fill-opacity="0.5" stroke="#a2183c" stroke-width="1.1"/>
<circle cx="471" cy="429.1" r="2.9" fill="#fff" fill-opacity="0.5" stroke="#a2183c" stroke-width="1.1"/>
<circle cx="463.9" cy="432.5" r="2.9" fill="#fff" fill-opacity="0.5" stroke="#a2183c" stroke-width="1.1"/>
<circle cx="471" cy="435.5" r="2.9" fill="#fff" fill-opacity="0.5" stroke="#a2183c" stroke-width="1.1"/>
<circle cx="456.6" cy="439" r="2.9" fill="#fff" fill-opacity="0.5" stroke="#a2183c" stroke-width="1.1"/>
<circle cx="449.5" cy="443.9" r="2.9" fill="#fff" fill-opacity="0.5" stroke="#a2183c" stroke-width="1.1"/>
<circle cx="456.6" cy="445.7" r="2.9" fill="#fff" fill-opacity="0.5" stroke="#a2183c" stroke-width="1.1"/>
<circle cx="463.9" cy="444.9" r="2.9" fill="#fff" fill-opacity="0.5" stroke="#a2183c" stroke-width="1.1"/>
<circle cx="471" cy="447.3" r="2.9" fill="#fff" fill-opacity="0.5" stroke="#a2183c" stroke-width="1.1"/>
<circle cx="478" cy="448" r="2.9" fill="#fff" fill-opacity="0.5" stroke="#a2183c" stroke-width="1.1"/>
<circle cx="485.2" cy="445.3" r="2.9" fill="#fff" fill-opacity="0.5" stroke="#a2183c" stroke-width="1.1"/>
<circle cx="463.9" cy="452.9" r="2.9" fill="#fff" fill-opacity="0.5" stroke="#a2183c" stroke-width="1.1"/>
<circle cx="456.6" cy="455.6" r="2.9" fill="#fff" fill-opacity="0.5" stroke="#a2183c" stroke-width="1.1"/>
<circle cx="471" cy="454.9" r="2.9" fill="#fff" fill-opacity="0.5" stroke="#a2183c" stroke-width="1.1"/>
<circle cx="478" cy="455.3" r="2.9" fill="#fff" fill-opacity="0.5" stroke="#a2183c" stroke-width="1.1"/>
<circle cx="449.5" cy="459.6" r="2.9" fill="#fff" fill-opacity="0.5" stroke="#a2183c" stroke-width="1.1"/>
<circle cx="471" cy="458.9" r="2.9" fill="#fff" fill-opacity="0.5" stroke="#a2183c" stroke-width="1.1"/>
<circle cx="463.9" cy="461.6" r="2.9" fill="#fff" fill-opacity="0.5" stroke="#a2183c" stroke-width="1.1"/>
<circle cx="471" cy="463.4" r="2.9" fill="#fff" fill-opacity="0.5" stroke="#a2183c" stroke-width="1.1"/>
<circle cx="478" cy="461.6" r="2.9" fill="#fff" fill-opacity="0.5" stroke="#a2183c" stroke-width="1.1"/>
<circle cx="485.2" cy="463" r="2.9" fill="#fff" fill-opacity="0.5" stroke="#a2183c" stroke-width="1.1"/>
<circle cx="456.6" cy="465.3" r="2.9" fill="#fff" fill-opacity="0.5" stroke="#a2183c" stroke-width="1.1"/>
<circle cx="463.9" cy="465.3" r="2.9" fill="#fff" fill-opacity="0.5" stroke="#a2183c" stroke-width="1.1"/>
<circle cx="478" cy="468.4" r="2.9" fill="#fff" fill-opacity="0.5" stroke="#a2183c" stroke-width="1.1"/>
<circle cx="449.5" cy="469.5" r="2.9" fill="#fff" fill-opacity="0.5" stroke="#a2183c" stroke-width="1.1"/>
<circle cx="485.2" cy="470.2" r="2.9" fill="#fff" fill-opacity="0.5" stroke="#a2183c" stroke-width="1.1"/>
<circle cx="456.6" cy="471.3" r="2.9" fill="#fff" fill-opacity="0.5" stroke="#a2183c" stroke-width="1.1"/>
<circle cx="463.9" cy="472.8" r="2.9" fill="#fff" fill-opacity="0.5" stroke="#a2183c" stroke-width="1.1"/>
<circle cx="471" cy="472.4" r="2.9" fill="#fff" fill-opacity="0.5" stroke="#a2183c" stroke-width="1.1"/>
<circle cx="478" cy="474.1" r="2.9" fill="#fff" fill-opacity="0.5" stroke="#a2183c" stroke-width="1.1"/>
<circle cx="463.9" cy="480.1" r="2.9" fill="#fff" fill-opacity="0.5" stroke="#a2183c" stroke-width="1.1"/>
<circle cx="485.2" cy="478" r="2.9" fill="#fff" fill-opacity="0.5" stroke="#a2183c" stroke-width="1.1"/>
<circle cx="478" cy="481" r="2.9" fill="#fff" fill-opacity="0.5" stroke="#a2183c" stroke-width="1.1"/>
<circle cx="471" cy="482.7" r="2.9" fill="#fff" fill-opacity="0.5" stroke="#a2183c" stroke-width="1.1"/>
<circle cx="449.5" cy="484.5" r="2.9" fill="#fff" fill-opacity="0.5" stroke="#a2183c" stroke-width="1.1"/>
<circle cx="456.6" cy="483.5" r="2.9" fill="#fff" fill-opacity="0.5" stroke="#a2183c" stroke-width="1.1"/>
<circle cx="463.9" cy="486.7" r="2.9" fill="#fff" fill-opacity="0.5" stroke="#a2183c" stroke-width="1.1"/>
<circle cx="485.2" cy="484.5" r="2.9" fill="#fff" fill-opacity="0.5" stroke="#a2183c" stroke-width="1.1"/>
<circle cx="456.6" cy="491.4" r="2.9" fill="#fff" fill-opacity="0.5" stroke="#a2183c" stroke-width="1.1"/>
<circle cx="471" cy="490" r="2.9" fill="#fff" fill-opacity="0.5" stroke="#a2183c" stroke-width="1.1"/>
<circle cx="478" cy="491.2" r="2.9" fill="#fff" fill-opacity="0.5" stroke="#a2183c" stroke-width="1.1"/>
<circle cx="471" cy="496.3" r="2.9" fill="#fff" fill-opacity="0.5" stroke="#a2183c" stroke-width="1.1"/>
<circle cx="463.9" cy="498.4" r="2.9" fill="#fff" fill-opacity="0.5" stroke="#a2183c" stroke-width="1.1"/>
<path d="M384.1,445.9 H425.9" stroke="#111" stroke-width="1.8"/>
<path d="M394.5,440.1 H415.3" stroke="#333" stroke-width="0.9" stroke-opacity="0.8"/>
<path d="M394.5,451.7 H415.3" stroke="#333" stroke-width="0.9" stroke-opacity="0.8"/>
<path d="M404.9,440.1 V451.7" stroke="#333" stroke-width="0.9" stroke-opacity="0.8"/>
<path d="M446.8,459.3 H488.1" stroke="#111" stroke-width="1.8"/>
<path d="M457,454.8 H477.8" stroke="#333" stroke-width="0.9" stroke-opacity="0.8"/>
<path d="M457,463.8 H477.8" stroke="#333" stroke-width="0.9" stroke-opacity="0.8"/>
<path d="M467.4,454.8 V463.8" stroke="#333" stroke-width="0.9" stroke-opacity="0.8"/>
<path d="M363.2,597.8 V748.2 H509.9" fill="none" stroke="#111" stroke-width="1.5"/>
<path d="M359.2,601.8 H363.2" stroke="#111" stroke-width="1.3"/>
<text x="349.2" y="604.8" dy="0.6" font-size="8.8" fill="#2a2a2a" text-anchor="end" textLength="21.3" lengthAdjust="spacingAndGlyphs">8×10</text><text x="351.3" y="604.8" dy="-3.7" font-size="4.6" fill="#2a2a2a">4</text>
<path d="M359.2,638.8 H363.2" stroke="#111" stroke-width="1.3"/>
<text x="349.2" y="641.8" dy="0.6" font-size="8.8" fill="#2a2a2a" text-anchor="end" textLength="21.3" lengthAdjust="spacingAndGlyphs">6×10</text><text x="351.3" y="641.8" dy="-3.7" font-size="4.6" fill="#2a2a2a">4</text>
<path d="M359.2,675 H363.2" stroke="#111" stroke-width="1.3"/>
<text x="349.2" y="678" dy="0.6" font-size="8.8" fill="#2a2a2a" text-anchor="end" textLength="21.3" lengthAdjust="spacingAndGlyphs">4×10</text><text x="351.3" y="678" dy="-3.7" font-size="4.6" fill="#2a2a2a">4</text>
<path d="M359.2,711.4 H363.2" stroke="#111" stroke-width="1.3"/>
<text x="349.2" y="714.4" dy="0.6" font-size="8.8" fill="#2a2a2a" text-anchor="end" textLength="21.3" lengthAdjust="spacingAndGlyphs">2×10</text><text x="351.3" y="714.4" dy="-3.7" font-size="4.6" fill="#2a2a2a">4</text>
<path d="M359.2,748.2 H363.2" stroke="#111" stroke-width="1.3"/>
<text x="353.8" y="751.2" font-size="8.8" fill="#2a2a2a" text-anchor="end">0</text>
<path d="M404.9,748.2 V752.2" stroke="#111" stroke-width="1.3"/>
<path d="M467.4,748.2 V752.2" stroke="#111" stroke-width="1.3"/>
<text x="404.9" y="765.2" font-size="8.8" fill="#2a2a2a" text-anchor="middle" font-weight="normal" textLength="28.2" lengthAdjust="spacingAndGlyphs">Vehicle</text>
<text x="467.4" y="765.2" font-size="8.8" fill="#2a2a2a" text-anchor="middle" font-weight="normal" textLength="42" lengthAdjust="spacingAndGlyphs">Puromycin</text>
<text transform="translate(319.4,673.5) rotate(-90)" font-size="11.3" fill="#1a1a1a" stroke="#1a1a1a" stroke-width="0.25" text-anchor="middle" textLength="104.5" lengthAdjust="spacingAndGlyphs">Cd62p (+) AUC (µm<tspan dy="-4" font-size="7.5">2</tspan><tspan dy="4">-sec)</tspan></text>
<text x="416.4" y="603.6" font-size="9.4" fill="#2a2a2a"><tspan font-style="italic">P</tspan> &lt; .4363</text>
<circle cx="397.6" cy="620.1" r="2.75" fill="#37a53a" stroke="#2b8c31" stroke-width="0.6"/>
<circle cx="404.7" cy="623.2" r="2.75" fill="#37a53a" stroke="#2b8c31" stroke-width="0.6"/>
<circle cx="412" cy="621.8" r="2.75" fill="#37a53a" stroke="#2b8c31" stroke-width="0.6"/>
<circle cx="401.2" cy="634.2" r="2.75" fill="#37a53a" stroke="#2b8c31" stroke-width="0.6"/>
<circle cx="408.6" cy="638" r="2.75" fill="#37a53a" stroke="#2b8c31" stroke-width="0.6"/>
<circle cx="404.7" cy="655.1" r="2.75" fill="#37a53a" stroke="#2b8c31" stroke-width="0.6"/>
<circle cx="394" cy="662.2" r="2.75" fill="#37a53a" stroke="#2b8c31" stroke-width="0.6"/>
<circle cx="401.2" cy="667.2" r="2.75" fill="#37a53a" stroke="#2b8c31" stroke-width="0.6"/>
<circle cx="408.4" cy="664.9" r="2.75" fill="#37a53a" stroke="#2b8c31" stroke-width="0.6"/>
<circle cx="415.8" cy="665.2" r="2.75" fill="#37a53a" stroke="#2b8c31" stroke-width="0.6"/>
<circle cx="415.8" cy="671.5" r="2.75" fill="#37a53a" stroke="#2b8c31" stroke-width="0.6"/>
<circle cx="408.4" cy="675.3" r="2.75" fill="#37a53a" stroke="#2b8c31" stroke-width="0.6"/>
<circle cx="415.8" cy="677.3" r="2.75" fill="#37a53a" stroke="#2b8c31" stroke-width="0.6"/>
<circle cx="394" cy="679.5" r="2.75" fill="#37a53a" stroke="#2b8c31" stroke-width="0.6"/>
<circle cx="401.2" cy="682.1" r="2.75" fill="#37a53a" stroke="#2b8c31" stroke-width="0.6"/>
<circle cx="408.4" cy="685.1" r="2.75" fill="#37a53a" stroke="#2b8c31" stroke-width="0.6"/>
<circle cx="415.8" cy="684.8" r="2.75" fill="#37a53a" stroke="#2b8c31" stroke-width="0.6"/>
<circle cx="423.2" cy="683.7" r="2.75" fill="#37a53a" stroke="#2b8c31" stroke-width="0.6"/>
<circle cx="401.2" cy="690.5" r="2.75" fill="#37a53a" stroke="#2b8c31" stroke-width="0.6"/>
<circle cx="408.4" cy="693.6" r="2.75" fill="#37a53a" stroke="#2b8c31" stroke-width="0.6"/>
<circle cx="415.8" cy="699.6" r="2.75" fill="#37a53a" stroke="#2b8c31" stroke-width="0.6"/>
<circle cx="408.4" cy="702.3" r="2.75" fill="#37a53a" stroke="#2b8c31" stroke-width="0.6"/>
<circle cx="401.2" cy="705.3" r="2.75" fill="#37a53a" stroke="#2b8c31" stroke-width="0.6"/>
<circle cx="394" cy="711" r="2.75" fill="#37a53a" stroke="#2b8c31" stroke-width="0.6"/>
<circle cx="386.8" cy="717.8" r="2.75" fill="#37a53a" stroke="#2b8c31" stroke-width="0.6"/>
<circle cx="394" cy="721.8" r="2.75" fill="#37a53a" stroke="#2b8c31" stroke-width="0.6"/>
<circle cx="401.2" cy="718.2" r="2.75" fill="#37a53a" stroke="#2b8c31" stroke-width="0.6"/>
<circle cx="408.4" cy="720.5" r="2.75" fill="#37a53a" stroke="#2b8c31" stroke-width="0.6"/>
<circle cx="415.8" cy="720.1" r="2.75" fill="#37a53a" stroke="#2b8c31" stroke-width="0.6"/>
<circle cx="423.2" cy="716.4" r="2.75" fill="#37a53a" stroke="#2b8c31" stroke-width="0.6"/>
<circle cx="408.4" cy="727.2" r="2.75" fill="#37a53a" stroke="#2b8c31" stroke-width="0.6"/>
<circle cx="401.2" cy="730.8" r="2.75" fill="#37a53a" stroke="#2b8c31" stroke-width="0.6"/>
<circle cx="463.9" cy="626.8" r="2.9" fill="#fff" fill-opacity="0.5" stroke="#a2183c" stroke-width="1.1"/>
<circle cx="471" cy="628.2" r="2.9" fill="#fff" fill-opacity="0.5" stroke="#a2183c" stroke-width="1.1"/>
<circle cx="463.9" cy="633.6" r="2.9" fill="#fff" fill-opacity="0.5" stroke="#a2183c" stroke-width="1.1"/>
<circle cx="456.6" cy="640.3" r="2.9" fill="#fff" fill-opacity="0.5" stroke="#a2183c" stroke-width="1.1"/>
<circle cx="463.9" cy="642" r="2.9" fill="#fff" fill-opacity="0.5" stroke="#a2183c" stroke-width="1.1"/>
<circle cx="471" cy="640.7" r="2.9" fill="#fff" fill-opacity="0.5" stroke="#a2183c" stroke-width="1.1"/>
<circle cx="478" cy="640.3" r="2.9" fill="#fff" fill-opacity="0.5" stroke="#a2183c" stroke-width="1.1"/>
<circle cx="463.9" cy="654.4" r="2.9" fill="#fff" fill-opacity="0.5" stroke="#a2183c" stroke-width="1.1"/>
<circle cx="471" cy="658.2" r="2.9" fill="#fff" fill-opacity="0.5" stroke="#a2183c" stroke-width="1.1"/>
<circle cx="478" cy="656.4" r="2.9" fill="#fff" fill-opacity="0.5" stroke="#a2183c" stroke-width="1.1"/>
<circle cx="456.6" cy="666.8" r="2.9" fill="#fff" fill-opacity="0.5" stroke="#a2183c" stroke-width="1.1"/>
<circle cx="463.9" cy="670.5" r="2.9" fill="#fff" fill-opacity="0.5" stroke="#a2183c" stroke-width="1.1"/>
<circle cx="471" cy="665.5" r="2.9" fill="#fff" fill-opacity="0.5" stroke="#a2183c" stroke-width="1.1"/>
<circle cx="478" cy="670" r="2.9" fill="#fff" fill-opacity="0.5" stroke="#a2183c" stroke-width="1.1"/>
<circle cx="456.6" cy="677" r="2.9" fill="#fff" fill-opacity="0.5" stroke="#a2183c" stroke-width="1.1"/>
<circle cx="471" cy="677" r="2.9" fill="#fff" fill-opacity="0.5" stroke="#a2183c" stroke-width="1.1"/>
<circle cx="485.2" cy="676.4" r="2.9" fill="#fff" fill-opacity="0.5" stroke="#a2183c" stroke-width="1.1"/>
<circle cx="463.9" cy="681.4" r="2.9" fill="#fff" fill-opacity="0.5" stroke="#a2183c" stroke-width="1.1"/>
<circle cx="478" cy="681" r="2.9" fill="#fff" fill-opacity="0.5" stroke="#a2183c" stroke-width="1.1"/>
<circle cx="456.6" cy="685.5" r="2.9" fill="#fff" fill-opacity="0.5" stroke="#a2183c" stroke-width="1.1"/>
<circle cx="471" cy="686.8" r="2.9" fill="#fff" fill-opacity="0.5" stroke="#a2183c" stroke-width="1.1"/>
<circle cx="463.9" cy="688.5" r="2.9" fill="#fff" fill-opacity="0.5" stroke="#a2183c" stroke-width="1.1"/>
<circle cx="478" cy="689.9" r="2.9" fill="#fff" fill-opacity="0.5" stroke="#a2183c" stroke-width="1.1"/>
<circle cx="485.2" cy="686.2" r="2.9" fill="#fff" fill-opacity="0.5" stroke="#a2183c" stroke-width="1.1"/>
<circle cx="449.5" cy="694.9" r="2.9" fill="#fff" fill-opacity="0.5" stroke="#a2183c" stroke-width="1.1"/>
<circle cx="471" cy="695.6" r="2.9" fill="#fff" fill-opacity="0.5" stroke="#a2183c" stroke-width="1.1"/>
<circle cx="485.2" cy="697.2" r="2.9" fill="#fff" fill-opacity="0.5" stroke="#a2183c" stroke-width="1.1"/>
<circle cx="456.6" cy="700.7" r="2.9" fill="#fff" fill-opacity="0.5" stroke="#a2183c" stroke-width="1.1"/>
<circle cx="463.9" cy="700.3" r="2.9" fill="#fff" fill-opacity="0.5" stroke="#a2183c" stroke-width="1.1"/>
<circle cx="471" cy="703" r="2.9" fill="#fff" fill-opacity="0.5" stroke="#a2183c" stroke-width="1.1"/>
<circle cx="478" cy="701.2" r="2.9" fill="#fff" fill-opacity="0.5" stroke="#a2183c" stroke-width="1.1"/>
<circle cx="456.6" cy="709.8" r="2.9" fill="#fff" fill-opacity="0.5" stroke="#a2183c" stroke-width="1.1"/>
<circle cx="463.9" cy="710.4" r="2.9" fill="#fff" fill-opacity="0.5" stroke="#a2183c" stroke-width="1.1"/>
<circle cx="471" cy="710.2" r="2.9" fill="#fff" fill-opacity="0.5" stroke="#a2183c" stroke-width="1.1"/>
<circle cx="478" cy="711" r="2.9" fill="#fff" fill-opacity="0.5" stroke="#a2183c" stroke-width="1.1"/>
<circle cx="456.6" cy="716" r="2.9" fill="#fff" fill-opacity="0.5" stroke="#a2183c" stroke-width="1.1"/>
<circle cx="463.9" cy="717.8" r="2.9" fill="#fff" fill-opacity="0.5" stroke="#a2183c" stroke-width="1.1"/>
<circle cx="471" cy="721.6" r="2.9" fill="#fff" fill-opacity="0.5" stroke="#a2183c" stroke-width="1.1"/>
<circle cx="456.6" cy="724.7" r="2.9" fill="#fff" fill-opacity="0.5" stroke="#a2183c" stroke-width="1.1"/>
<circle cx="463.9" cy="724.1" r="2.9" fill="#fff" fill-opacity="0.5" stroke="#a2183c" stroke-width="1.1"/>
<circle cx="478" cy="724.1" r="2.9" fill="#fff" fill-opacity="0.5" stroke="#a2183c" stroke-width="1.1"/>
<circle cx="471" cy="729.5" r="2.9" fill="#fff" fill-opacity="0.5" stroke="#a2183c" stroke-width="1.1"/>
<circle cx="456.6" cy="731.7" r="2.9" fill="#fff" fill-opacity="0.5" stroke="#a2183c" stroke-width="1.1"/>
<circle cx="463.9" cy="733.4" r="2.9" fill="#fff" fill-opacity="0.5" stroke="#a2183c" stroke-width="1.1"/>
<circle cx="478" cy="735.1" r="2.9" fill="#fff" fill-opacity="0.5" stroke="#a2183c" stroke-width="1.1"/>
<circle cx="456.6" cy="738.4" r="2.9" fill="#fff" fill-opacity="0.5" stroke="#a2183c" stroke-width="1.1"/>
<circle cx="471" cy="737.8" r="2.9" fill="#fff" fill-opacity="0.5" stroke="#a2183c" stroke-width="1.1"/>
<path d="M384.1,683.5 H425.9" stroke="#111" stroke-width="1.8"/>
<path d="M394.5,677.8 H415.3" stroke="#333" stroke-width="0.9" stroke-opacity="0.8"/>
<path d="M394.5,689.2 H415.3" stroke="#333" stroke-width="0.9" stroke-opacity="0.8"/>
<path d="M404.9,677.8 V689.2" stroke="#333" stroke-width="0.9" stroke-opacity="0.8"/>
<path d="M446.8,689.8 H488.1" stroke="#111" stroke-width="1.8"/>
<path d="M457,685.9 H477.8" stroke="#333" stroke-width="0.9" stroke-opacity="0.8"/>
<path d="M457,694 H477.8" stroke="#333" stroke-width="0.9" stroke-opacity="0.8"/>
<path d="M467.4,685.9 V694" stroke="#333" stroke-width="0.9" stroke-opacity="0.8"/>
<path d="M363.2,834.6 V984.5 H509.9" fill="none" stroke="#111" stroke-width="1.5"/>
<path d="M359.2,838.6 H363.2" stroke="#111" stroke-width="1.3"/>
<text x="349.2" y="841.6" dy="0.6" font-size="8.8" fill="#2a2a2a" text-anchor="end" textLength="21.3" lengthAdjust="spacingAndGlyphs">1×10</text><text x="351.3" y="841.6" dy="-3.7" font-size="4.6" fill="#2a2a2a">5</text>
<path d="M359.2,867.7 H363.2" stroke="#111" stroke-width="1.3"/>
<text x="349.2" y="870.7" dy="0.6" font-size="8.8" fill="#2a2a2a" text-anchor="end" textLength="21.3" lengthAdjust="spacingAndGlyphs">8×10</text><text x="351.3" y="870.7" dy="-3.7" font-size="4.6" fill="#2a2a2a">4</text>
<path d="M359.2,896.9 H363.2" stroke="#111" stroke-width="1.3"/>
<text x="349.2" y="899.9" dy="0.6" font-size="8.8" fill="#2a2a2a" text-anchor="end" textLength="21.3" lengthAdjust="spacingAndGlyphs">6×10</text><text x="351.3" y="899.9" dy="-3.7" font-size="4.6" fill="#2a2a2a">4</text>
<path d="M359.2,926 H363.2" stroke="#111" stroke-width="1.3"/>
<text x="349.2" y="929" dy="0.6" font-size="8.8" fill="#2a2a2a" text-anchor="end" textLength="21.3" lengthAdjust="spacingAndGlyphs">4×10</text><text x="351.3" y="929" dy="-3.7" font-size="4.6" fill="#2a2a2a">4</text>
<path d="M359.2,955.2 H363.2" stroke="#111" stroke-width="1.3"/>
<text x="349.2" y="958.2" dy="0.6" font-size="8.8" fill="#2a2a2a" text-anchor="end" textLength="21.3" lengthAdjust="spacingAndGlyphs">2×10</text><text x="351.3" y="958.2" dy="-3.7" font-size="4.6" fill="#2a2a2a">4</text>
<path d="M359.2,984.5 H363.2" stroke="#111" stroke-width="1.3"/>
<text x="353.8" y="987.5" font-size="8.8" fill="#2a2a2a" text-anchor="end">0</text>
<path d="M404.9,984.5 V988.5" stroke="#111" stroke-width="1.3"/>
<path d="M467.4,984.5 V988.5" stroke="#111" stroke-width="1.3"/>
<text x="404.9" y="1001.5" font-size="8.8" fill="#2a2a2a" text-anchor="middle" font-weight="normal" textLength="28.2" lengthAdjust="spacingAndGlyphs">Vehicle</text>
<text x="467.4" y="1001.5" font-size="8.8" fill="#2a2a2a" text-anchor="middle" font-weight="normal" textLength="42" lengthAdjust="spacingAndGlyphs">Puromycin</text>
<text transform="translate(319.4,909.5) rotate(-90)" font-size="11.3" fill="#1a1a1a" stroke="#1a1a1a" stroke-width="0.25" text-anchor="middle" textLength="85.3" lengthAdjust="spacingAndGlyphs">Fibrin AUC (µm<tspan dy="-4" font-size="7.5">2</tspan><tspan dy="4">-sec)</tspan></text>
<text x="408.3" y="836.8" font-size="9.4" fill="#2a2a2a"><tspan font-style="italic">P</tspan> &lt; .0771</text>
<circle cx="404.7" cy="852.1" r="2.75" fill="#37a53a" stroke="#2b8c31" stroke-width="0.6"/>
<circle cx="395.8" cy="875.9" r="2.75" fill="#37a53a" stroke="#2b8c31" stroke-width="0.6"/>
<circle cx="404.7" cy="876.7" r="2.75" fill="#37a53a" stroke="#2b8c31" stroke-width="0.6"/>
<circle cx="409.3" cy="883.3" r="2.75" fill="#37a53a" stroke="#2b8c31" stroke-width="0.6"/>
<circle cx="400.6" cy="886.8" r="2.75" fill="#37a53a" stroke="#2b8c31" stroke-width="0.6"/>
<circle cx="405" cy="896.9" r="2.75" fill="#37a53a" stroke="#2b8c31" stroke-width="0.6"/>
<circle cx="386.8" cy="910" r="2.75" fill="#37a53a" stroke="#2b8c31" stroke-width="0.6"/>
<circle cx="395.8" cy="914.1" r="2.75" fill="#37a53a" stroke="#2b8c31" stroke-width="0.6"/>
<circle cx="404.7" cy="913.2" r="2.75" fill="#37a53a" stroke="#2b8c31" stroke-width="0.6"/>
<circle cx="386.8" cy="921.3" r="2.75" fill="#37a53a" stroke="#2b8c31" stroke-width="0.6"/>
<circle cx="395.8" cy="920.5" r="2.75" fill="#37a53a" stroke="#2b8c31" stroke-width="0.6"/>
<circle cx="413.7" cy="919.1" r="2.75" fill="#37a53a" stroke="#2b8c31" stroke-width="0.6"/>
<circle cx="422.8" cy="919.9" r="2.75" fill="#37a53a" stroke="#2b8c31" stroke-width="0.6"/>
<circle cx="404.7" cy="923.6" r="2.75" fill="#37a53a" stroke="#2b8c31" stroke-width="0.6"/>
<circle cx="395.8" cy="928" r="2.75" fill="#37a53a" stroke="#2b8c31" stroke-width="0.6"/>
<circle cx="413.7" cy="927.6" r="2.75" fill="#37a53a" stroke="#2b8c31" stroke-width="0.6"/>
<circle cx="404.7" cy="931.6" r="2.75" fill="#37a53a" stroke="#2b8c31" stroke-width="0.6"/>
<circle cx="413.7" cy="936.1" r="2.75" fill="#37a53a" stroke="#2b8c31" stroke-width="0.6"/>
<circle cx="395.8" cy="939.7" r="2.75" fill="#37a53a" stroke="#2b8c31" stroke-width="0.6"/>
<circle cx="413.7" cy="944.4" r="2.75" fill="#37a53a" stroke="#2b8c31" stroke-width="0.6"/>
<circle cx="404.7" cy="950.4" r="2.75" fill="#37a53a" stroke="#2b8c31" stroke-width="0.6"/>
<circle cx="413.7" cy="951.1" r="2.75" fill="#37a53a" stroke="#2b8c31" stroke-width="0.6"/>
<circle cx="395.8" cy="956.5" r="2.75" fill="#37a53a" stroke="#2b8c31" stroke-width="0.6"/>
<circle cx="404.7" cy="955.8" r="2.75" fill="#37a53a" stroke="#2b8c31" stroke-width="0.6"/>
<circle cx="395.8" cy="963.3" r="2.75" fill="#37a53a" stroke="#2b8c31" stroke-width="0.6"/>
<circle cx="404.7" cy="963.8" r="2.75" fill="#37a53a" stroke="#2b8c31" stroke-width="0.6"/>
<circle cx="413.7" cy="962.7" r="2.75" fill="#37a53a" stroke="#2b8c31" stroke-width="0.6"/>
<circle cx="395.8" cy="969" r="2.75" fill="#37a53a" stroke="#2b8c31" stroke-width="0.6"/>
<circle cx="413.7" cy="968.6" r="2.75" fill="#37a53a" stroke="#2b8c31" stroke-width="0.6"/>
<circle cx="467.4" cy="852.4" r="2.9" fill="#fff" fill-opacity="0.5" stroke="#a2183c" stroke-width="1.1"/>
<circle cx="467.4" cy="883.1" r="2.9" fill="#fff" fill-opacity="0.5" stroke="#a2183c" stroke-width="1.1"/>
<circle cx="464.3" cy="889.1" r="2.9" fill="#fff" fill-opacity="0.5" stroke="#a2183c" stroke-width="1.1"/>
<circle cx="470.4" cy="890.5" r="2.9" fill="#fff" fill-opacity="0.5" stroke="#a2183c" stroke-width="1.1"/>
<circle cx="461.2" cy="902.8" r="2.9" fill="#fff" fill-opacity="0.5" stroke="#a2183c" stroke-width="1.1"/>
<circle cx="467.4" cy="902.8" r="2.9" fill="#fff" fill-opacity="0.5" stroke="#a2183c" stroke-width="1.1"/>
<circle cx="473.3" cy="902.8" r="2.9" fill="#fff" fill-opacity="0.5" stroke="#a2183c" stroke-width="1.1"/>
<circle cx="467.4" cy="913.5" r="2.9" fill="#fff" fill-opacity="0.5" stroke="#a2183c" stroke-width="1.1"/>
<circle cx="461.2" cy="916.8" r="2.9" fill="#fff" fill-opacity="0.5" stroke="#a2183c" stroke-width="1.1"/>
<circle cx="473.3" cy="917.2" r="2.9" fill="#fff" fill-opacity="0.5" stroke="#a2183c" stroke-width="1.1"/>
<circle cx="473.3" cy="924.5" r="2.9" fill="#fff" fill-opacity="0.5" stroke="#a2183c" stroke-width="1.1"/>
<circle cx="461.2" cy="926.6" r="2.9" fill="#fff" fill-opacity="0.5" stroke="#a2183c" stroke-width="1.1"/>
<circle cx="467.4" cy="927.6" r="2.9" fill="#fff" fill-opacity="0.5" stroke="#a2183c" stroke-width="1.1"/>
<circle cx="455.3" cy="932.3" r="2.9" fill="#fff" fill-opacity="0.5" stroke="#a2183c" stroke-width="1.1"/>
<circle cx="461.2" cy="932.3" r="2.9" fill="#fff" fill-opacity="0.5" stroke="#a2183c" stroke-width="1.1"/>
<circle cx="473.3" cy="932" r="2.9" fill="#fff" fill-opacity="0.5" stroke="#a2183c" stroke-width="1.1"/>
<circle cx="479.5" cy="935.7" r="2.9" fill="#fff" fill-opacity="0.5" stroke="#a2183c" stroke-width="1.1"/>
<circle cx="461.2" cy="941" r="2.9" fill="#fff" fill-opacity="0.5" stroke="#a2183c" stroke-width="1.1"/>
<circle cx="467.4" cy="940.4" r="2.9" fill="#fff" fill-opacity="0.5" stroke="#a2183c" stroke-width="1.1"/>
<circle cx="473.3" cy="944.4" r="2.9" fill="#fff" fill-opacity="0.5" stroke="#a2183c" stroke-width="1.1"/>
<circle cx="479.5" cy="944.7" r="2.9" fill="#fff" fill-opacity="0.5" stroke="#a2183c" stroke-width="1.1"/>
<circle cx="485.5" cy="943.7" r="2.9" fill="#fff" fill-opacity="0.5" stroke="#a2183c" stroke-width="1.1"/>
<circle cx="449.5" cy="949.7" r="2.9" fill="#fff" fill-opacity="0.5" stroke="#a2183c" stroke-width="1.1"/>
<circle cx="455.3" cy="947.8" r="2.9" fill="#fff" fill-opacity="0.5" stroke="#a2183c" stroke-width="1.1"/>
<circle cx="461.2" cy="949.4" r="2.9" fill="#fff" fill-opacity="0.5" stroke="#a2183c" stroke-width="1.1"/>
<circle cx="467.4" cy="947.4" r="2.9" fill="#fff" fill-opacity="0.5" stroke="#a2183c" stroke-width="1.1"/>
<circle cx="479.5" cy="951.1" r="2.9" fill="#fff" fill-opacity="0.5" stroke="#a2183c" stroke-width="1.1"/>
<circle cx="485.5" cy="951.1" r="2.9" fill="#fff" fill-opacity="0.5" stroke="#a2183c" stroke-width="1.1"/>
<circle cx="449.5" cy="958.2" r="2.9" fill="#fff" fill-opacity="0.5" stroke="#a2183c" stroke-width="1.1"/>
<circle cx="455.3" cy="958.6" r="2.9" fill="#fff" fill-opacity="0.5" stroke="#a2183c" stroke-width="1.1"/>
<circle cx="461.2" cy="958.2" r="2.9" fill="#fff" fill-opacity="0.5" stroke="#a2183c" stroke-width="1.1"/>
<circle cx="467.4" cy="960.2" r="2.9" fill="#fff" fill-opacity="0.5" stroke="#a2183c" stroke-width="1.1"/>
<circle cx="473.3" cy="956.5" r="2.9" fill="#fff" fill-opacity="0.5" stroke="#a2183c" stroke-width="1.1"/>
<circle cx="479.5" cy="958.6" r="2.9" fill="#fff" fill-opacity="0.5" stroke="#a2183c" stroke-width="1.1"/>
<circle cx="485.5" cy="957.9" r="2.9" fill="#fff" fill-opacity="0.5" stroke="#a2183c" stroke-width="1.1"/>
<circle cx="461.2" cy="965.4" r="2.9" fill="#fff" fill-opacity="0.5" stroke="#a2183c" stroke-width="1.1"/>
<circle cx="473.3" cy="963.4" r="2.9" fill="#fff" fill-opacity="0.5" stroke="#a2183c" stroke-width="1.1"/>
<circle cx="467.4" cy="967.9" r="2.9" fill="#fff" fill-opacity="0.5" stroke="#a2183c" stroke-width="1.1"/>
<circle cx="461.2" cy="971.3" r="2.9" fill="#fff" fill-opacity="0.5" stroke="#a2183c" stroke-width="1.1"/>
<circle cx="473.3" cy="970.2" r="2.9" fill="#fff" fill-opacity="0.5" stroke="#a2183c" stroke-width="1.1"/>
<circle cx="467.4" cy="975.6" r="2.9" fill="#fff" fill-opacity="0.5" stroke="#a2183c" stroke-width="1.1"/>
<circle cx="473.3" cy="976.2" r="2.9" fill="#fff" fill-opacity="0.5" stroke="#a2183c" stroke-width="1.1"/>
<circle cx="461.2" cy="982" r="2.9" fill="#fff" fill-opacity="0.5" stroke="#a2183c" stroke-width="1.1"/>
<path d="M384.1,926.2 H425.9" stroke="#111" stroke-width="1.8"/>
<path d="M394.5,920.5 H415.3" stroke="#333" stroke-width="0.9" stroke-opacity="0.8"/>
<path d="M394.5,932.3 H415.3" stroke="#333" stroke-width="0.9" stroke-opacity="0.8"/>
<path d="M404.9,920.5 V932.3" stroke="#333" stroke-width="0.9" stroke-opacity="0.8"/>
<path d="M446.8,939 H488.1" stroke="#111" stroke-width="1.8"/>
<path d="M457,935.3 H477.8" stroke="#333" stroke-width="0.9" stroke-opacity="0.8"/>
<path d="M457,942.7 H477.8" stroke="#333" stroke-width="0.9" stroke-opacity="0.8"/>
<path d="M467.4,935.3 V942.7" stroke="#333" stroke-width="0.9" stroke-opacity="0.8"/>
<rect x="0" y="0" width="520" height="1.2" fill="#222"/>
<rect x="0" y="1031.6" width="520" height="1.4" fill="#222"/>
<rect x="0" y="0" width="1.4" height="1033" fill="#222"/>
<rect x="518.4" y="0" width="1.6" height="1033" fill="#222"/>
</svg></body></html>
